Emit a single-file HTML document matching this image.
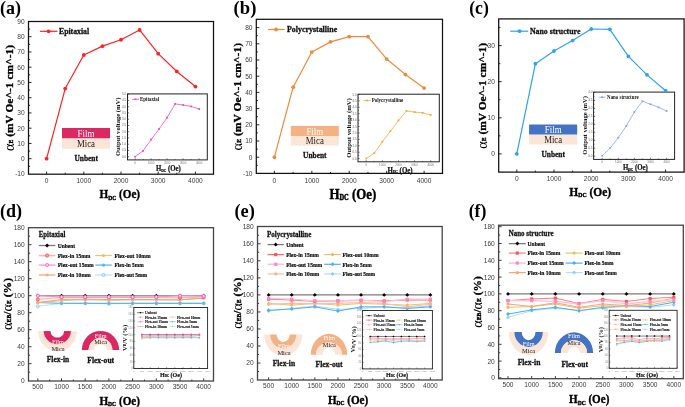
<!DOCTYPE html>
<html><head><meta charset="utf-8"><style>
html,body{margin:0;padding:0;background:#fff;}
body{width:685px;height:407px;overflow:hidden;}
svg{display:block;filter:blur(0.3px);}
</style></head><body>
<svg width="685" height="407" viewBox="0 0 685 407">
<rect width="685" height="407" fill="#fff"/>
<text x="0" y="13.6" font-family="'Liberation Serif', serif" font-size="19" font-weight="bold" fill="#000" text-anchor="start" textLength="21" lengthAdjust="spacingAndGlyphs">(a)</text>
<line x1="28.5" y1="166.32" x2="30.1" y2="166.32" stroke="#111" stroke-width="0.9"/>
<line x1="28.5" y1="158.7" x2="31.5" y2="158.7" stroke="#111" stroke-width="0.9"/>
<line x1="28.5" y1="151.07" x2="30.1" y2="151.07" stroke="#111" stroke-width="0.9"/>
<line x1="28.5" y1="143.45" x2="31.5" y2="143.45" stroke="#111" stroke-width="0.9"/>
<line x1="28.5" y1="135.82" x2="30.1" y2="135.82" stroke="#111" stroke-width="0.9"/>
<line x1="28.5" y1="128.2" x2="31.5" y2="128.2" stroke="#111" stroke-width="0.9"/>
<line x1="28.5" y1="120.57" x2="30.1" y2="120.57" stroke="#111" stroke-width="0.9"/>
<line x1="28.5" y1="112.95" x2="31.5" y2="112.95" stroke="#111" stroke-width="0.9"/>
<line x1="28.5" y1="105.32" x2="30.1" y2="105.32" stroke="#111" stroke-width="0.9"/>
<line x1="28.5" y1="97.7" x2="31.5" y2="97.7" stroke="#111" stroke-width="0.9"/>
<line x1="28.5" y1="90.07" x2="30.1" y2="90.07" stroke="#111" stroke-width="0.9"/>
<line x1="28.5" y1="82.45" x2="31.5" y2="82.45" stroke="#111" stroke-width="0.9"/>
<line x1="28.5" y1="74.82" x2="30.1" y2="74.82" stroke="#111" stroke-width="0.9"/>
<line x1="28.5" y1="67.2" x2="31.5" y2="67.2" stroke="#111" stroke-width="0.9"/>
<line x1="28.5" y1="59.57" x2="30.1" y2="59.57" stroke="#111" stroke-width="0.9"/>
<line x1="28.5" y1="51.95" x2="31.5" y2="51.95" stroke="#111" stroke-width="0.9"/>
<line x1="28.5" y1="44.32" x2="30.1" y2="44.32" stroke="#111" stroke-width="0.9"/>
<line x1="28.5" y1="36.7" x2="31.5" y2="36.7" stroke="#111" stroke-width="0.9"/>
<line x1="28.5" y1="29.07" x2="30.1" y2="29.07" stroke="#111" stroke-width="0.9"/>
<line x1="46.6" y1="174.2" x2="46.6" y2="171.6" stroke="#111" stroke-width="0.9"/>
<line x1="65.2" y1="174.2" x2="65.2" y2="172.7" stroke="#111" stroke-width="0.9"/>
<line x1="83.8" y1="174.2" x2="83.8" y2="171.6" stroke="#111" stroke-width="0.9"/>
<line x1="102.4" y1="174.2" x2="102.4" y2="172.7" stroke="#111" stroke-width="0.9"/>
<line x1="121" y1="174.2" x2="121" y2="171.6" stroke="#111" stroke-width="0.9"/>
<line x1="139.6" y1="174.2" x2="139.6" y2="172.7" stroke="#111" stroke-width="0.9"/>
<line x1="158.2" y1="174.2" x2="158.2" y2="171.6" stroke="#111" stroke-width="0.9"/>
<line x1="176.8" y1="174.2" x2="176.8" y2="172.7" stroke="#111" stroke-width="0.9"/>
<line x1="195.4" y1="174.2" x2="195.4" y2="171.6" stroke="#111" stroke-width="0.9"/>
<text x="24.7" y="176.35" font-family="'Liberation Sans', sans-serif" font-size="6.6" font-weight="normal" fill="#3a3a3a" text-anchor="end">-10</text>
<text x="24.7" y="161.1" font-family="'Liberation Sans', sans-serif" font-size="6.6" font-weight="normal" fill="#3a3a3a" text-anchor="end">0</text>
<text x="24.7" y="145.85" font-family="'Liberation Sans', sans-serif" font-size="6.6" font-weight="normal" fill="#3a3a3a" text-anchor="end">10</text>
<text x="24.7" y="130.6" font-family="'Liberation Sans', sans-serif" font-size="6.6" font-weight="normal" fill="#3a3a3a" text-anchor="end">20</text>
<text x="24.7" y="115.35" font-family="'Liberation Sans', sans-serif" font-size="6.6" font-weight="normal" fill="#3a3a3a" text-anchor="end">30</text>
<text x="24.7" y="100.1" font-family="'Liberation Sans', sans-serif" font-size="6.6" font-weight="normal" fill="#3a3a3a" text-anchor="end">40</text>
<text x="24.7" y="84.85" font-family="'Liberation Sans', sans-serif" font-size="6.6" font-weight="normal" fill="#3a3a3a" text-anchor="end">50</text>
<text x="24.7" y="69.6" font-family="'Liberation Sans', sans-serif" font-size="6.6" font-weight="normal" fill="#3a3a3a" text-anchor="end">60</text>
<text x="24.7" y="54.35" font-family="'Liberation Sans', sans-serif" font-size="6.6" font-weight="normal" fill="#3a3a3a" text-anchor="end">70</text>
<text x="24.7" y="39.1" font-family="'Liberation Sans', sans-serif" font-size="6.6" font-weight="normal" fill="#3a3a3a" text-anchor="end">80</text>
<text x="24.7" y="23.85" font-family="'Liberation Sans', sans-serif" font-size="6.6" font-weight="normal" fill="#3a3a3a" text-anchor="end">90</text>
<text x="46.6" y="183.3" font-family="'Liberation Sans', sans-serif" font-size="6.6" font-weight="normal" fill="#3a3a3a" text-anchor="middle">0</text>
<text x="83.8" y="183.3" font-family="'Liberation Sans', sans-serif" font-size="6.6" font-weight="normal" fill="#3a3a3a" text-anchor="middle">1000</text>
<text x="121" y="183.3" font-family="'Liberation Sans', sans-serif" font-size="6.6" font-weight="normal" fill="#3a3a3a" text-anchor="middle">2000</text>
<text x="158.2" y="183.3" font-family="'Liberation Sans', sans-serif" font-size="6.6" font-weight="normal" fill="#3a3a3a" text-anchor="middle">3000</text>
<text x="195.4" y="183.3" font-family="'Liberation Sans', sans-serif" font-size="6.6" font-weight="normal" fill="#3a3a3a" text-anchor="middle">4000</text>
<line x1="40" y1="31.3" x2="57.4" y2="31.3" stroke="#FF2222" stroke-width="1.2"/>
<circle cx="48.6" cy="31.3" r="1.9" fill="#FF2222"/>
<text x="59" y="33.9" font-family="'Liberation Serif', serif" font-size="7.6" font-weight="bold" fill="#111" text-anchor="start" textLength="30.1" lengthAdjust="spacingAndGlyphs" stroke="#111" stroke-width="0.27">Epitaxial</text>
<rect x="62" y="128" width="48" height="10.5" fill="#DC2862"/>
<rect x="62" y="138.5" width="48" height="10.3" fill="#FBE5D6"/>
<text x="86" y="136.9" font-family="'Liberation Serif', serif" font-size="9.6" font-weight="normal" fill="#fff" text-anchor="middle" textLength="16.8" lengthAdjust="spacingAndGlyphs">Film</text>
<text x="86" y="147.1" font-family="'Liberation Serif', serif" font-size="9.8" font-weight="normal" fill="#1a1a1a" text-anchor="middle" textLength="18" lengthAdjust="spacingAndGlyphs">Mica</text>
<text x="86.2" y="160.6" font-family="'Liberation Serif', serif" font-size="7.8" font-weight="bold" fill="#111" text-anchor="middle" textLength="23.4" lengthAdjust="spacingAndGlyphs" stroke="#111" stroke-width="0.27">Unbent</text>
<rect x="127.5" y="93.9" width="79.8" height="66" fill="#fff"/>
<line x1="127.5" y1="156.7" x2="129.1" y2="156.7" stroke="#333" stroke-width="0.7"/>
<line x1="127.5" y1="153.58" x2="128.4" y2="153.58" stroke="#333" stroke-width="0.6"/>
<text x="126.2" y="157.7" font-family="'Liberation Sans', sans-serif" font-size="3" font-weight="normal" fill="#666" text-anchor="end">0.0</text>
<line x1="127.5" y1="150.45" x2="129.1" y2="150.45" stroke="#333" stroke-width="0.7"/>
<line x1="127.5" y1="147.33" x2="128.4" y2="147.33" stroke="#333" stroke-width="0.6"/>
<text x="126.2" y="151.45" font-family="'Liberation Sans', sans-serif" font-size="3" font-weight="normal" fill="#666" text-anchor="end">0.5</text>
<line x1="127.5" y1="144.2" x2="129.1" y2="144.2" stroke="#333" stroke-width="0.7"/>
<line x1="127.5" y1="141.08" x2="128.4" y2="141.08" stroke="#333" stroke-width="0.6"/>
<text x="126.2" y="145.2" font-family="'Liberation Sans', sans-serif" font-size="3" font-weight="normal" fill="#666" text-anchor="end">1.0</text>
<line x1="127.5" y1="137.95" x2="129.1" y2="137.95" stroke="#333" stroke-width="0.7"/>
<line x1="127.5" y1="134.83" x2="128.4" y2="134.83" stroke="#333" stroke-width="0.6"/>
<text x="126.2" y="138.95" font-family="'Liberation Sans', sans-serif" font-size="3" font-weight="normal" fill="#666" text-anchor="end">1.5</text>
<line x1="127.5" y1="131.7" x2="129.1" y2="131.7" stroke="#333" stroke-width="0.7"/>
<line x1="127.5" y1="128.58" x2="128.4" y2="128.58" stroke="#333" stroke-width="0.6"/>
<text x="126.2" y="132.7" font-family="'Liberation Sans', sans-serif" font-size="3" font-weight="normal" fill="#666" text-anchor="end">2.0</text>
<line x1="127.5" y1="125.45" x2="129.1" y2="125.45" stroke="#333" stroke-width="0.7"/>
<line x1="127.5" y1="122.33" x2="128.4" y2="122.33" stroke="#333" stroke-width="0.6"/>
<text x="126.2" y="126.45" font-family="'Liberation Sans', sans-serif" font-size="3" font-weight="normal" fill="#666" text-anchor="end">2.5</text>
<line x1="127.5" y1="119.2" x2="129.1" y2="119.2" stroke="#333" stroke-width="0.7"/>
<line x1="127.5" y1="116.08" x2="128.4" y2="116.08" stroke="#333" stroke-width="0.6"/>
<text x="126.2" y="120.2" font-family="'Liberation Sans', sans-serif" font-size="3" font-weight="normal" fill="#666" text-anchor="end">3.0</text>
<line x1="127.5" y1="112.95" x2="129.1" y2="112.95" stroke="#333" stroke-width="0.7"/>
<line x1="127.5" y1="109.83" x2="128.4" y2="109.83" stroke="#333" stroke-width="0.6"/>
<text x="126.2" y="113.95" font-family="'Liberation Sans', sans-serif" font-size="3" font-weight="normal" fill="#666" text-anchor="end">3.5</text>
<line x1="127.5" y1="106.7" x2="129.1" y2="106.7" stroke="#333" stroke-width="0.7"/>
<line x1="127.5" y1="103.58" x2="128.4" y2="103.58" stroke="#333" stroke-width="0.6"/>
<text x="126.2" y="107.7" font-family="'Liberation Sans', sans-serif" font-size="3" font-weight="normal" fill="#666" text-anchor="end">4.0</text>
<line x1="127.5" y1="100.45" x2="129.1" y2="100.45" stroke="#333" stroke-width="0.7"/>
<line x1="127.5" y1="97.33" x2="128.4" y2="97.33" stroke="#333" stroke-width="0.6"/>
<text x="126.2" y="101.45" font-family="'Liberation Sans', sans-serif" font-size="3" font-weight="normal" fill="#666" text-anchor="end">4.5</text>
<line x1="127.5" y1="94.2" x2="129.1" y2="94.2" stroke="#333" stroke-width="0.7"/>
<text x="126.2" y="95.2" font-family="'Liberation Sans', sans-serif" font-size="3" font-weight="normal" fill="#666" text-anchor="end">5.0</text>
<line x1="135.1" y1="159.9" x2="135.1" y2="158.3" stroke="#333" stroke-width="0.6"/>
<text x="135.1" y="163.7" font-family="'Liberation Sans', sans-serif" font-size="2.9" font-weight="normal" fill="#777" text-anchor="middle">0</text>
<line x1="143.1" y1="159.9" x2="143.1" y2="159" stroke="#333" stroke-width="0.6"/>
<line x1="151.1" y1="159.9" x2="151.1" y2="158.3" stroke="#333" stroke-width="0.6"/>
<text x="151.1" y="163.7" font-family="'Liberation Sans', sans-serif" font-size="2.9" font-weight="normal" fill="#777" text-anchor="middle">1000</text>
<line x1="159.1" y1="159.9" x2="159.1" y2="159" stroke="#333" stroke-width="0.6"/>
<line x1="167.1" y1="159.9" x2="167.1" y2="158.3" stroke="#333" stroke-width="0.6"/>
<text x="167.1" y="163.7" font-family="'Liberation Sans', sans-serif" font-size="2.9" font-weight="normal" fill="#777" text-anchor="middle">2000</text>
<line x1="175.1" y1="159.9" x2="175.1" y2="159" stroke="#333" stroke-width="0.6"/>
<line x1="183.1" y1="159.9" x2="183.1" y2="158.3" stroke="#333" stroke-width="0.6"/>
<text x="183.1" y="163.7" font-family="'Liberation Sans', sans-serif" font-size="2.9" font-weight="normal" fill="#777" text-anchor="middle">3000</text>
<line x1="191.1" y1="159.9" x2="191.1" y2="159" stroke="#333" stroke-width="0.6"/>
<line x1="199.1" y1="159.9" x2="199.1" y2="158.3" stroke="#333" stroke-width="0.6"/>
<text x="199.1" y="163.7" font-family="'Liberation Sans', sans-serif" font-size="2.9" font-weight="normal" fill="#777" text-anchor="middle">4000</text>
<polyline points="135.1,156.7 143.1,150.9 151.1,139.6 159.1,128.9 167.1,117.6 175.1,103.9 183.1,105 191.1,106.4 199.1,109" fill="none" stroke="#F04BC8" stroke-width="0.8" stroke-linejoin="round"/>
<rect x="134.2" y="155.8" width="1.8" height="1.8" fill="#F04BC8"/>
<rect x="142.2" y="150" width="1.8" height="1.8" fill="#F04BC8"/>
<rect x="150.2" y="138.7" width="1.8" height="1.8" fill="#F04BC8"/>
<rect x="158.2" y="128" width="1.8" height="1.8" fill="#F04BC8"/>
<rect x="166.2" y="116.7" width="1.8" height="1.8" fill="#F04BC8"/>
<rect x="174.2" y="103" width="1.8" height="1.8" fill="#F04BC8"/>
<rect x="182.2" y="104.1" width="1.8" height="1.8" fill="#F04BC8"/>
<rect x="190.2" y="105.5" width="1.8" height="1.8" fill="#F04BC8"/>
<rect x="198.2" y="108.1" width="1.8" height="1.8" fill="#F04BC8"/>
<rect x="127.5" y="93.9" width="79.8" height="66" fill="none" stroke="#222" stroke-width="1"/>
<line x1="132" y1="99.3" x2="139.1" y2="99.3" stroke="#F04BC8" stroke-width="0.8"/>
<rect x="134.6" y="98.4" width="1.8" height="1.8" fill="#F04BC8"/>
<text x="140" y="101.1" font-family="'Liberation Serif', serif" font-size="5.6" font-weight="700" fill="#111" text-anchor="start" textLength="19.2" lengthAdjust="spacingAndGlyphs">Epitaxial</text>
<text x="0" y="0" font-family="'Liberation Serif', serif" font-size="6.6" font-weight="bold" fill="#111" text-anchor="middle" textLength="58.4" lengthAdjust="spacingAndGlyphs" transform="translate(117.4 126.8) rotate(-90)" dominant-baseline="central">Output voltage (mV)</text>
<text x="168.4" y="171" font-family="'Liberation Serif', serif" font-size="7.4" font-weight="bold" fill="#111" stroke="#111" stroke-width="0.22" text-anchor="middle" textLength="24.8" lengthAdjust="spacingAndGlyphs">H<tspan font-size="3.7" dy="0.74">DC</tspan><tspan dy="-0.74"> (Oe)</tspan></text>
<polyline points="46.6,158.7 65.2,88.55 83.8,55 102.4,46.16 121,39.75 139.6,29.99 158.2,53.63 176.8,71.47 195.4,86.57" fill="none" stroke="#FF2222" stroke-width="1.2" stroke-linejoin="round"/>
<circle cx="46.6" cy="158.7" r="1.9" fill="#FF2222"/>
<circle cx="65.2" cy="88.55" r="1.9" fill="#FF2222"/>
<circle cx="83.8" cy="55" r="1.9" fill="#FF2222"/>
<circle cx="102.4" cy="46.16" r="1.9" fill="#FF2222"/>
<circle cx="121" cy="39.75" r="1.9" fill="#FF2222"/>
<circle cx="139.6" cy="29.99" r="1.9" fill="#FF2222"/>
<circle cx="158.2" cy="53.63" r="1.9" fill="#FF2222"/>
<circle cx="176.8" cy="71.47" r="1.9" fill="#FF2222"/>
<circle cx="195.4" cy="86.57" r="1.9" fill="#FF2222"/>
<rect x="28.5" y="21.5" width="185" height="152.7" fill="none" stroke="#111" stroke-width="1.25"/>
<text x="0" y="0" font-family="'Liberation Serif', serif" font-size="11.1" font-weight="bold" fill="#000" stroke="#000" stroke-width="0.33" text-anchor="middle" textLength="106" lengthAdjust="spacingAndGlyphs" transform="translate(9 98) rotate(-90)" dominant-baseline="central"><tspan font-weight="normal" stroke-width="0" font-size="13.88">α</tspan><tspan font-size="5.55" dy="2.22">E</tspan><tspan dy="-2.22"> (mV Oe^-1 cm^-1)</tspan></text>
<text x="119.8" y="198.3" font-family="'Liberation Serif', serif" font-size="13.3" font-weight="bold" fill="#000" stroke="#000" stroke-width="0.4" text-anchor="middle" textLength="40.6" lengthAdjust="spacingAndGlyphs">H<tspan font-size="6.65" dy="1.33">DC</tspan><tspan dy="-1.33"> (Oe)</tspan></text>
<text x="233.6" y="13.6" font-family="'Liberation Serif', serif" font-size="19" font-weight="bold" fill="#000" text-anchor="start" textLength="22.8" lengthAdjust="spacingAndGlyphs">(b)</text>
<line x1="256.3" y1="165.3" x2="257.9" y2="165.3" stroke="#111" stroke-width="0.9"/>
<line x1="256.3" y1="157.2" x2="259.3" y2="157.2" stroke="#111" stroke-width="0.9"/>
<line x1="256.3" y1="149.1" x2="257.9" y2="149.1" stroke="#111" stroke-width="0.9"/>
<line x1="256.3" y1="141" x2="259.3" y2="141" stroke="#111" stroke-width="0.9"/>
<line x1="256.3" y1="132.9" x2="257.9" y2="132.9" stroke="#111" stroke-width="0.9"/>
<line x1="256.3" y1="124.8" x2="259.3" y2="124.8" stroke="#111" stroke-width="0.9"/>
<line x1="256.3" y1="116.7" x2="257.9" y2="116.7" stroke="#111" stroke-width="0.9"/>
<line x1="256.3" y1="108.6" x2="259.3" y2="108.6" stroke="#111" stroke-width="0.9"/>
<line x1="256.3" y1="100.5" x2="257.9" y2="100.5" stroke="#111" stroke-width="0.9"/>
<line x1="256.3" y1="92.4" x2="259.3" y2="92.4" stroke="#111" stroke-width="0.9"/>
<line x1="256.3" y1="84.3" x2="257.9" y2="84.3" stroke="#111" stroke-width="0.9"/>
<line x1="256.3" y1="76.2" x2="259.3" y2="76.2" stroke="#111" stroke-width="0.9"/>
<line x1="256.3" y1="68.1" x2="257.9" y2="68.1" stroke="#111" stroke-width="0.9"/>
<line x1="256.3" y1="60" x2="259.3" y2="60" stroke="#111" stroke-width="0.9"/>
<line x1="256.3" y1="51.9" x2="257.9" y2="51.9" stroke="#111" stroke-width="0.9"/>
<line x1="256.3" y1="43.8" x2="259.3" y2="43.8" stroke="#111" stroke-width="0.9"/>
<line x1="256.3" y1="35.7" x2="257.9" y2="35.7" stroke="#111" stroke-width="0.9"/>
<line x1="256.3" y1="27.6" x2="259.3" y2="27.6" stroke="#111" stroke-width="0.9"/>
<line x1="274.4" y1="173.4" x2="274.4" y2="170.8" stroke="#111" stroke-width="0.9"/>
<line x1="293.11" y1="173.4" x2="293.11" y2="171.9" stroke="#111" stroke-width="0.9"/>
<line x1="311.83" y1="173.4" x2="311.83" y2="170.8" stroke="#111" stroke-width="0.9"/>
<line x1="330.54" y1="173.4" x2="330.54" y2="171.9" stroke="#111" stroke-width="0.9"/>
<line x1="349.26" y1="173.4" x2="349.26" y2="170.8" stroke="#111" stroke-width="0.9"/>
<line x1="367.97" y1="173.4" x2="367.97" y2="171.9" stroke="#111" stroke-width="0.9"/>
<line x1="386.69" y1="173.4" x2="386.69" y2="170.8" stroke="#111" stroke-width="0.9"/>
<line x1="405.4" y1="173.4" x2="405.4" y2="171.9" stroke="#111" stroke-width="0.9"/>
<line x1="424.12" y1="173.4" x2="424.12" y2="170.8" stroke="#111" stroke-width="0.9"/>
<text x="252.5" y="175.8" font-family="'Liberation Sans', sans-serif" font-size="6.6" font-weight="normal" fill="#3a3a3a" text-anchor="end">-10</text>
<text x="252.5" y="159.6" font-family="'Liberation Sans', sans-serif" font-size="6.6" font-weight="normal" fill="#3a3a3a" text-anchor="end">0</text>
<text x="252.5" y="143.4" font-family="'Liberation Sans', sans-serif" font-size="6.6" font-weight="normal" fill="#3a3a3a" text-anchor="end">10</text>
<text x="252.5" y="127.2" font-family="'Liberation Sans', sans-serif" font-size="6.6" font-weight="normal" fill="#3a3a3a" text-anchor="end">20</text>
<text x="252.5" y="111" font-family="'Liberation Sans', sans-serif" font-size="6.6" font-weight="normal" fill="#3a3a3a" text-anchor="end">30</text>
<text x="252.5" y="94.8" font-family="'Liberation Sans', sans-serif" font-size="6.6" font-weight="normal" fill="#3a3a3a" text-anchor="end">40</text>
<text x="252.5" y="78.6" font-family="'Liberation Sans', sans-serif" font-size="6.6" font-weight="normal" fill="#3a3a3a" text-anchor="end">50</text>
<text x="252.5" y="62.4" font-family="'Liberation Sans', sans-serif" font-size="6.6" font-weight="normal" fill="#3a3a3a" text-anchor="end">60</text>
<text x="252.5" y="46.2" font-family="'Liberation Sans', sans-serif" font-size="6.6" font-weight="normal" fill="#3a3a3a" text-anchor="end">70</text>
<text x="252.5" y="30" font-family="'Liberation Sans', sans-serif" font-size="6.6" font-weight="normal" fill="#3a3a3a" text-anchor="end">80</text>
<text x="274.4" y="182.5" font-family="'Liberation Sans', sans-serif" font-size="6.6" font-weight="normal" fill="#3a3a3a" text-anchor="middle">0</text>
<text x="311.83" y="182.5" font-family="'Liberation Sans', sans-serif" font-size="6.6" font-weight="normal" fill="#3a3a3a" text-anchor="middle">1000</text>
<text x="349.26" y="182.5" font-family="'Liberation Sans', sans-serif" font-size="6.6" font-weight="normal" fill="#3a3a3a" text-anchor="middle">2000</text>
<text x="386.69" y="182.5" font-family="'Liberation Sans', sans-serif" font-size="6.6" font-weight="normal" fill="#3a3a3a" text-anchor="middle">3000</text>
<text x="424.12" y="182.5" font-family="'Liberation Sans', sans-serif" font-size="6.6" font-weight="normal" fill="#3a3a3a" text-anchor="middle">4000</text>
<line x1="268" y1="29.5" x2="284.7" y2="29.5" stroke="#F08A3A" stroke-width="1.2"/>
<circle cx="276.1" cy="29.5" r="1.9" fill="#F08A3A"/>
<text x="286.9" y="32.1" font-family="'Liberation Serif', serif" font-size="7.6" font-weight="bold" fill="#111" text-anchor="start" textLength="50.3" lengthAdjust="spacingAndGlyphs" stroke="#111" stroke-width="0.27">Polycrystalline</text>
<rect x="290.8" y="125.9" width="48" height="10.2" fill="#F4B183"/>
<rect x="290.8" y="136.1" width="48" height="9.5" fill="#FBE5D6"/>
<text x="314.8" y="134.5" font-family="'Liberation Serif', serif" font-size="9.6" font-weight="normal" fill="#fff" text-anchor="middle" textLength="16.8" lengthAdjust="spacingAndGlyphs">Film</text>
<text x="314.8" y="143.9" font-family="'Liberation Serif', serif" font-size="9.8" font-weight="normal" fill="#1a1a1a" text-anchor="middle" textLength="18" lengthAdjust="spacingAndGlyphs">Mica</text>
<text x="314.8" y="157.7" font-family="'Liberation Serif', serif" font-size="7.8" font-weight="bold" fill="#111" text-anchor="middle" textLength="23.4" lengthAdjust="spacingAndGlyphs" stroke="#111" stroke-width="0.27">Unbent</text>
<rect x="358" y="94.2" width="81.3" height="67.6" fill="#fff"/>
<line x1="358" y1="158.6" x2="359.6" y2="158.6" stroke="#333" stroke-width="0.7"/>
<line x1="358" y1="155.4" x2="358.9" y2="155.4" stroke="#333" stroke-width="0.6"/>
<text x="356.7" y="159.6" font-family="'Liberation Sans', sans-serif" font-size="3" font-weight="normal" fill="#666" text-anchor="end">0.0</text>
<line x1="358" y1="152.19" x2="359.6" y2="152.19" stroke="#333" stroke-width="0.7"/>
<line x1="358" y1="148.99" x2="358.9" y2="148.99" stroke="#333" stroke-width="0.6"/>
<text x="356.7" y="153.19" font-family="'Liberation Sans', sans-serif" font-size="3" font-weight="normal" fill="#666" text-anchor="end">0.5</text>
<line x1="358" y1="145.78" x2="359.6" y2="145.78" stroke="#333" stroke-width="0.7"/>
<line x1="358" y1="142.58" x2="358.9" y2="142.58" stroke="#333" stroke-width="0.6"/>
<text x="356.7" y="146.78" font-family="'Liberation Sans', sans-serif" font-size="3" font-weight="normal" fill="#666" text-anchor="end">1.0</text>
<line x1="358" y1="139.37" x2="359.6" y2="139.37" stroke="#333" stroke-width="0.7"/>
<line x1="358" y1="136.16" x2="358.9" y2="136.16" stroke="#333" stroke-width="0.6"/>
<text x="356.7" y="140.37" font-family="'Liberation Sans', sans-serif" font-size="3" font-weight="normal" fill="#666" text-anchor="end">1.5</text>
<line x1="358" y1="132.96" x2="359.6" y2="132.96" stroke="#333" stroke-width="0.7"/>
<line x1="358" y1="129.75" x2="358.9" y2="129.75" stroke="#333" stroke-width="0.6"/>
<text x="356.7" y="133.96" font-family="'Liberation Sans', sans-serif" font-size="3" font-weight="normal" fill="#666" text-anchor="end">2.0</text>
<line x1="358" y1="126.55" x2="359.6" y2="126.55" stroke="#333" stroke-width="0.7"/>
<line x1="358" y1="123.35" x2="358.9" y2="123.35" stroke="#333" stroke-width="0.6"/>
<text x="356.7" y="127.55" font-family="'Liberation Sans', sans-serif" font-size="3" font-weight="normal" fill="#666" text-anchor="end">2.5</text>
<line x1="358" y1="120.14" x2="359.6" y2="120.14" stroke="#333" stroke-width="0.7"/>
<line x1="358" y1="116.94" x2="358.9" y2="116.94" stroke="#333" stroke-width="0.6"/>
<text x="356.7" y="121.14" font-family="'Liberation Sans', sans-serif" font-size="3" font-weight="normal" fill="#666" text-anchor="end">3.0</text>
<line x1="358" y1="113.73" x2="359.6" y2="113.73" stroke="#333" stroke-width="0.7"/>
<line x1="358" y1="110.53" x2="358.9" y2="110.53" stroke="#333" stroke-width="0.6"/>
<text x="356.7" y="114.73" font-family="'Liberation Sans', sans-serif" font-size="3" font-weight="normal" fill="#666" text-anchor="end">3.5</text>
<line x1="358" y1="107.32" x2="359.6" y2="107.32" stroke="#333" stroke-width="0.7"/>
<line x1="358" y1="104.12" x2="358.9" y2="104.12" stroke="#333" stroke-width="0.6"/>
<text x="356.7" y="108.32" font-family="'Liberation Sans', sans-serif" font-size="3" font-weight="normal" fill="#666" text-anchor="end">4.0</text>
<line x1="358" y1="100.91" x2="359.6" y2="100.91" stroke="#333" stroke-width="0.7"/>
<line x1="358" y1="97.7" x2="358.9" y2="97.7" stroke="#333" stroke-width="0.6"/>
<text x="356.7" y="101.91" font-family="'Liberation Sans', sans-serif" font-size="3" font-weight="normal" fill="#666" text-anchor="end">4.5</text>
<line x1="358" y1="94.5" x2="359.6" y2="94.5" stroke="#333" stroke-width="0.7"/>
<text x="356.7" y="95.5" font-family="'Liberation Sans', sans-serif" font-size="3" font-weight="normal" fill="#666" text-anchor="end">5.0</text>
<line x1="366.2" y1="161.8" x2="366.2" y2="160.2" stroke="#333" stroke-width="0.6"/>
<text x="366.2" y="165.6" font-family="'Liberation Sans', sans-serif" font-size="2.9" font-weight="normal" fill="#777" text-anchor="middle">0</text>
<line x1="374.26" y1="161.8" x2="374.26" y2="160.9" stroke="#333" stroke-width="0.6"/>
<line x1="382.33" y1="161.8" x2="382.33" y2="160.2" stroke="#333" stroke-width="0.6"/>
<text x="382.33" y="165.6" font-family="'Liberation Sans', sans-serif" font-size="2.9" font-weight="normal" fill="#777" text-anchor="middle">1000</text>
<line x1="390.39" y1="161.8" x2="390.39" y2="160.9" stroke="#333" stroke-width="0.6"/>
<line x1="398.46" y1="161.8" x2="398.46" y2="160.2" stroke="#333" stroke-width="0.6"/>
<text x="398.46" y="165.6" font-family="'Liberation Sans', sans-serif" font-size="2.9" font-weight="normal" fill="#777" text-anchor="middle">2000</text>
<line x1="406.52" y1="161.8" x2="406.52" y2="160.9" stroke="#333" stroke-width="0.6"/>
<line x1="414.59" y1="161.8" x2="414.59" y2="160.2" stroke="#333" stroke-width="0.6"/>
<text x="414.59" y="165.6" font-family="'Liberation Sans', sans-serif" font-size="2.9" font-weight="normal" fill="#777" text-anchor="middle">3000</text>
<line x1="422.65" y1="161.8" x2="422.65" y2="160.9" stroke="#333" stroke-width="0.6"/>
<line x1="430.72" y1="161.8" x2="430.72" y2="160.2" stroke="#333" stroke-width="0.6"/>
<text x="430.72" y="165.6" font-family="'Liberation Sans', sans-serif" font-size="2.9" font-weight="normal" fill="#777" text-anchor="middle">4000</text>
<polyline points="366.2,158.5 374.26,153.2 382.33,141.8 390.39,131.2 398.46,120.5 406.52,110.9 414.59,112.1 422.65,112.8 430.72,114.9" fill="none" stroke="#F5A834" stroke-width="0.8" stroke-linejoin="round"/>
<rect x="365.3" y="157.6" width="1.8" height="1.8" fill="#F5A834"/>
<rect x="373.37" y="152.3" width="1.8" height="1.8" fill="#F5A834"/>
<rect x="381.43" y="140.9" width="1.8" height="1.8" fill="#F5A834"/>
<rect x="389.5" y="130.3" width="1.8" height="1.8" fill="#F5A834"/>
<rect x="397.56" y="119.6" width="1.8" height="1.8" fill="#F5A834"/>
<rect x="405.62" y="110" width="1.8" height="1.8" fill="#F5A834"/>
<rect x="413.69" y="111.2" width="1.8" height="1.8" fill="#F5A834"/>
<rect x="421.75" y="111.9" width="1.8" height="1.8" fill="#F5A834"/>
<rect x="429.82" y="114" width="1.8" height="1.8" fill="#F5A834"/>
<rect x="358" y="94.2" width="81.3" height="67.6" fill="none" stroke="#222" stroke-width="1"/>
<line x1="363.5" y1="100.5" x2="370.8" y2="100.5" stroke="#F5A834" stroke-width="0.8"/>
<rect x="366.2" y="99.6" width="1.8" height="1.8" fill="#F5A834"/>
<text x="371.7" y="102.3" font-family="'Liberation Serif', serif" font-size="5.6" font-weight="700" fill="#111" text-anchor="start" textLength="31.5" lengthAdjust="spacingAndGlyphs">Polycrystalline</text>
<text x="0" y="0" font-family="'Liberation Serif', serif" font-size="6.6" font-weight="bold" fill="#111" text-anchor="middle" textLength="59.7" lengthAdjust="spacingAndGlyphs" transform="translate(348.5 128) rotate(-90)" dominant-baseline="central">Output voltage (mV)</text>
<text x="400.1" y="172.6" font-family="'Liberation Serif', serif" font-size="7.4" font-weight="bold" fill="#111" stroke="#111" stroke-width="0.22" text-anchor="middle" textLength="25.2" lengthAdjust="spacingAndGlyphs">H<tspan font-size="3.7" dy="0.74">DC</tspan><tspan dy="-0.74"> (Oe)</tspan></text>
<polyline points="274.4,157.2 293.11,87.22 311.83,52.06 330.54,41.86 349.26,36.67 367.97,36.67 386.69,59.03 405.4,74.58 424.12,88.03" fill="none" stroke="#F08A3A" stroke-width="1.2" stroke-linejoin="round"/>
<circle cx="274.4" cy="157.2" r="1.9" fill="#F08A3A"/>
<circle cx="293.11" cy="87.22" r="1.9" fill="#F08A3A"/>
<circle cx="311.83" cy="52.06" r="1.9" fill="#F08A3A"/>
<circle cx="330.54" cy="41.86" r="1.9" fill="#F08A3A"/>
<circle cx="349.26" cy="36.67" r="1.9" fill="#F08A3A"/>
<circle cx="367.97" cy="36.67" r="1.9" fill="#F08A3A"/>
<circle cx="386.69" cy="59.03" r="1.9" fill="#F08A3A"/>
<circle cx="405.4" cy="74.58" r="1.9" fill="#F08A3A"/>
<circle cx="424.12" cy="88.03" r="1.9" fill="#F08A3A"/>
<rect x="256.3" y="19.3" width="186.2" height="154.1" fill="none" stroke="#111" stroke-width="1.25"/>
<text x="0" y="0" font-family="'Liberation Serif', serif" font-size="11.1" font-weight="bold" fill="#000" stroke="#000" stroke-width="0.33" text-anchor="middle" textLength="107.5" lengthAdjust="spacingAndGlyphs" transform="translate(236.6 96.7) rotate(-90)" dominant-baseline="central"><tspan font-weight="normal" stroke-width="0" font-size="13.88">α</tspan><tspan font-size="5.55" dy="2.22">E</tspan><tspan dy="-2.22"> (mV Oe^-1 cm^-1)</tspan></text>
<text x="352.8" y="199" font-family="'Liberation Serif', serif" font-size="14.4" font-weight="bold" fill="#000" stroke="#000" stroke-width="0.43" text-anchor="middle" textLength="46.8" lengthAdjust="spacingAndGlyphs">H<tspan font-size="7.2" dy="1.44">DC</tspan><tspan dy="-1.44"> (Oe)</tspan></text>
<text x="469.2" y="13.6" font-family="'Liberation Serif', serif" font-size="19" font-weight="bold" fill="#000" text-anchor="start" textLength="19.6" lengthAdjust="spacingAndGlyphs">(c)</text>
<line x1="498.7" y1="153.9" x2="501.7" y2="153.9" stroke="#111" stroke-width="0.9"/>
<line x1="498.7" y1="135.85" x2="500.3" y2="135.85" stroke="#111" stroke-width="0.9"/>
<line x1="498.7" y1="117.8" x2="501.7" y2="117.8" stroke="#111" stroke-width="0.9"/>
<line x1="498.7" y1="99.75" x2="500.3" y2="99.75" stroke="#111" stroke-width="0.9"/>
<line x1="498.7" y1="81.7" x2="501.7" y2="81.7" stroke="#111" stroke-width="0.9"/>
<line x1="498.7" y1="63.65" x2="500.3" y2="63.65" stroke="#111" stroke-width="0.9"/>
<line x1="498.7" y1="45.6" x2="501.7" y2="45.6" stroke="#111" stroke-width="0.9"/>
<line x1="498.7" y1="27.55" x2="500.3" y2="27.55" stroke="#111" stroke-width="0.9"/>
<line x1="516.8" y1="172.1" x2="516.8" y2="169.5" stroke="#111" stroke-width="0.9"/>
<line x1="535.4" y1="172.1" x2="535.4" y2="170.6" stroke="#111" stroke-width="0.9"/>
<line x1="554" y1="172.1" x2="554" y2="169.5" stroke="#111" stroke-width="0.9"/>
<line x1="572.6" y1="172.1" x2="572.6" y2="170.6" stroke="#111" stroke-width="0.9"/>
<line x1="591.2" y1="172.1" x2="591.2" y2="169.5" stroke="#111" stroke-width="0.9"/>
<line x1="609.8" y1="172.1" x2="609.8" y2="170.6" stroke="#111" stroke-width="0.9"/>
<line x1="628.4" y1="172.1" x2="628.4" y2="169.5" stroke="#111" stroke-width="0.9"/>
<line x1="647" y1="172.1" x2="647" y2="170.6" stroke="#111" stroke-width="0.9"/>
<line x1="665.6" y1="172.1" x2="665.6" y2="169.5" stroke="#111" stroke-width="0.9"/>
<text x="494.9" y="156.3" font-family="'Liberation Sans', sans-serif" font-size="6.6" font-weight="normal" fill="#3a3a3a" text-anchor="end">0</text>
<text x="494.9" y="120.2" font-family="'Liberation Sans', sans-serif" font-size="6.6" font-weight="normal" fill="#3a3a3a" text-anchor="end">10</text>
<text x="494.9" y="84.1" font-family="'Liberation Sans', sans-serif" font-size="6.6" font-weight="normal" fill="#3a3a3a" text-anchor="end">20</text>
<text x="494.9" y="48" font-family="'Liberation Sans', sans-serif" font-size="6.6" font-weight="normal" fill="#3a3a3a" text-anchor="end">30</text>
<text x="516.8" y="181.2" font-family="'Liberation Sans', sans-serif" font-size="6.6" font-weight="normal" fill="#3a3a3a" text-anchor="middle">0</text>
<text x="554" y="181.2" font-family="'Liberation Sans', sans-serif" font-size="6.6" font-weight="normal" fill="#3a3a3a" text-anchor="middle">1000</text>
<text x="591.2" y="181.2" font-family="'Liberation Sans', sans-serif" font-size="6.6" font-weight="normal" fill="#3a3a3a" text-anchor="middle">2000</text>
<text x="628.4" y="181.2" font-family="'Liberation Sans', sans-serif" font-size="6.6" font-weight="normal" fill="#3a3a3a" text-anchor="middle">3000</text>
<text x="665.6" y="181.2" font-family="'Liberation Sans', sans-serif" font-size="6.6" font-weight="normal" fill="#3a3a3a" text-anchor="middle">4000</text>
<line x1="510.2" y1="31.2" x2="528.2" y2="31.2" stroke="#2FA2F2" stroke-width="1.2"/>
<circle cx="519.6" cy="31.2" r="1.9" fill="#2FA2F2"/>
<text x="529.9" y="33.8" font-family="'Liberation Serif', serif" font-size="7.6" font-weight="bold" fill="#111" text-anchor="start" textLength="50.5" lengthAdjust="spacingAndGlyphs" stroke="#111" stroke-width="0.27">Nano structure</text>
<rect x="529.1" y="124.5" width="48.1" height="10.2" fill="#4472C4"/>
<rect x="529.1" y="134.7" width="48.1" height="9.8" fill="#FBE5D6"/>
<text x="553.15" y="133.1" font-family="'Liberation Serif', serif" font-size="9.6" font-weight="normal" fill="#fff" text-anchor="middle" textLength="16.8" lengthAdjust="spacingAndGlyphs">Film</text>
<text x="553.15" y="142.8" font-family="'Liberation Serif', serif" font-size="9.8" font-weight="normal" fill="#1a1a1a" text-anchor="middle" textLength="18" lengthAdjust="spacingAndGlyphs">Mica</text>
<text x="553.2" y="156.6" font-family="'Liberation Serif', serif" font-size="7.8" font-weight="bold" fill="#111" text-anchor="middle" textLength="23.4" lengthAdjust="spacingAndGlyphs" stroke="#111" stroke-width="0.27">Unbent</text>
<rect x="593.6" y="92.1" width="81" height="67.3" fill="#fff"/>
<line x1="593.6" y1="156.2" x2="595.2" y2="156.2" stroke="#333" stroke-width="0.7"/>
<line x1="593.6" y1="152.21" x2="594.5" y2="152.21" stroke="#333" stroke-width="0.6"/>
<text x="592.3" y="157.2" font-family="'Liberation Sans', sans-serif" font-size="3" font-weight="normal" fill="#666" text-anchor="end">0.0</text>
<line x1="593.6" y1="148.23" x2="595.2" y2="148.23" stroke="#333" stroke-width="0.7"/>
<line x1="593.6" y1="144.24" x2="594.5" y2="144.24" stroke="#333" stroke-width="0.6"/>
<text x="592.3" y="149.23" font-family="'Liberation Sans', sans-serif" font-size="3" font-weight="normal" fill="#666" text-anchor="end">0.5</text>
<line x1="593.6" y1="140.25" x2="595.2" y2="140.25" stroke="#333" stroke-width="0.7"/>
<line x1="593.6" y1="136.26" x2="594.5" y2="136.26" stroke="#333" stroke-width="0.6"/>
<text x="592.3" y="141.25" font-family="'Liberation Sans', sans-serif" font-size="3" font-weight="normal" fill="#666" text-anchor="end">1.0</text>
<line x1="593.6" y1="132.28" x2="595.2" y2="132.28" stroke="#333" stroke-width="0.7"/>
<line x1="593.6" y1="128.29" x2="594.5" y2="128.29" stroke="#333" stroke-width="0.6"/>
<text x="592.3" y="133.28" font-family="'Liberation Sans', sans-serif" font-size="3" font-weight="normal" fill="#666" text-anchor="end">1.5</text>
<line x1="593.6" y1="124.3" x2="595.2" y2="124.3" stroke="#333" stroke-width="0.7"/>
<line x1="593.6" y1="120.31" x2="594.5" y2="120.31" stroke="#333" stroke-width="0.6"/>
<text x="592.3" y="125.3" font-family="'Liberation Sans', sans-serif" font-size="3" font-weight="normal" fill="#666" text-anchor="end">2.0</text>
<line x1="593.6" y1="116.33" x2="595.2" y2="116.33" stroke="#333" stroke-width="0.7"/>
<line x1="593.6" y1="112.34" x2="594.5" y2="112.34" stroke="#333" stroke-width="0.6"/>
<text x="592.3" y="117.33" font-family="'Liberation Sans', sans-serif" font-size="3" font-weight="normal" fill="#666" text-anchor="end">2.5</text>
<line x1="593.6" y1="108.35" x2="595.2" y2="108.35" stroke="#333" stroke-width="0.7"/>
<line x1="593.6" y1="104.36" x2="594.5" y2="104.36" stroke="#333" stroke-width="0.6"/>
<text x="592.3" y="109.35" font-family="'Liberation Sans', sans-serif" font-size="3" font-weight="normal" fill="#666" text-anchor="end">3.0</text>
<line x1="593.6" y1="100.38" x2="595.2" y2="100.38" stroke="#333" stroke-width="0.7"/>
<line x1="593.6" y1="96.39" x2="594.5" y2="96.39" stroke="#333" stroke-width="0.6"/>
<text x="592.3" y="101.38" font-family="'Liberation Sans', sans-serif" font-size="3" font-weight="normal" fill="#666" text-anchor="end">3.5</text>
<line x1="593.6" y1="92.4" x2="595.2" y2="92.4" stroke="#333" stroke-width="0.7"/>
<text x="592.3" y="93.4" font-family="'Liberation Sans', sans-serif" font-size="3" font-weight="normal" fill="#666" text-anchor="end">4.0</text>
<line x1="602.2" y1="159.4" x2="602.2" y2="157.8" stroke="#333" stroke-width="0.6"/>
<text x="602.2" y="163.2" font-family="'Liberation Sans', sans-serif" font-size="2.9" font-weight="normal" fill="#777" text-anchor="middle">0</text>
<line x1="610.25" y1="159.4" x2="610.25" y2="158.5" stroke="#333" stroke-width="0.6"/>
<line x1="618.3" y1="159.4" x2="618.3" y2="157.8" stroke="#333" stroke-width="0.6"/>
<text x="618.3" y="163.2" font-family="'Liberation Sans', sans-serif" font-size="2.9" font-weight="normal" fill="#777" text-anchor="middle">1000</text>
<line x1="626.35" y1="159.4" x2="626.35" y2="158.5" stroke="#333" stroke-width="0.6"/>
<line x1="634.4" y1="159.4" x2="634.4" y2="157.8" stroke="#333" stroke-width="0.6"/>
<text x="634.4" y="163.2" font-family="'Liberation Sans', sans-serif" font-size="2.9" font-weight="normal" fill="#777" text-anchor="middle">2000</text>
<line x1="642.45" y1="159.4" x2="642.45" y2="158.5" stroke="#333" stroke-width="0.6"/>
<line x1="650.5" y1="159.4" x2="650.5" y2="157.8" stroke="#333" stroke-width="0.6"/>
<text x="650.5" y="163.2" font-family="'Liberation Sans', sans-serif" font-size="2.9" font-weight="normal" fill="#777" text-anchor="middle">3000</text>
<line x1="658.55" y1="159.4" x2="658.55" y2="158.5" stroke="#333" stroke-width="0.6"/>
<line x1="666.6" y1="159.4" x2="666.6" y2="157.8" stroke="#333" stroke-width="0.6"/>
<text x="666.6" y="163.2" font-family="'Liberation Sans', sans-serif" font-size="2.9" font-weight="normal" fill="#777" text-anchor="middle">4000</text>
<polyline points="602.2,155.8 610.25,148 618.3,137.7 626.35,125.9 634.4,112 642.45,101.2 650.5,104.3 658.55,107.3 666.6,111" fill="none" stroke="#86A2FF" stroke-width="0.8" stroke-linejoin="round"/>
<rect x="601.3" y="154.9" width="1.8" height="1.8" fill="#86A2FF"/>
<rect x="609.35" y="147.1" width="1.8" height="1.8" fill="#86A2FF"/>
<rect x="617.4" y="136.8" width="1.8" height="1.8" fill="#86A2FF"/>
<rect x="625.45" y="125" width="1.8" height="1.8" fill="#86A2FF"/>
<rect x="633.5" y="111.1" width="1.8" height="1.8" fill="#86A2FF"/>
<rect x="641.55" y="100.3" width="1.8" height="1.8" fill="#86A2FF"/>
<rect x="649.6" y="103.4" width="1.8" height="1.8" fill="#86A2FF"/>
<rect x="657.65" y="106.4" width="1.8" height="1.8" fill="#86A2FF"/>
<rect x="665.7" y="110.1" width="1.8" height="1.8" fill="#86A2FF"/>
<rect x="593.6" y="92.1" width="81" height="67.3" fill="none" stroke="#222" stroke-width="1"/>
<line x1="598.8" y1="97.2" x2="605.7" y2="97.2" stroke="#86A2FF" stroke-width="0.8"/>
<rect x="601.3" y="96.3" width="1.8" height="1.8" fill="#86A2FF"/>
<text x="607.1" y="99" font-family="'Liberation Serif', serif" font-size="5.6" font-weight="700" fill="#111" text-anchor="start" textLength="31.6" lengthAdjust="spacingAndGlyphs">Nano structure</text>
<text x="0" y="0" font-family="'Liberation Serif', serif" font-size="6.6" font-weight="bold" fill="#111" text-anchor="middle" textLength="58.7" lengthAdjust="spacingAndGlyphs" transform="translate(584.5 125.4) rotate(-90)" dominant-baseline="central">Output voltage (mV)</text>
<text x="635.4" y="170.2" font-family="'Liberation Serif', serif" font-size="7.4" font-weight="bold" fill="#111" stroke="#111" stroke-width="0.22" text-anchor="middle" textLength="24.8" lengthAdjust="spacingAndGlyphs">H<tspan font-size="3.7" dy="0.74">DC</tspan><tspan dy="-0.74"> (Oe)</tspan></text>
<polyline points="516.8,153.9 535.4,63.65 554,51.02 572.6,40.55 591.2,28.99 609.8,29.36 628.4,56.43 647,74.84 665.6,90.73" fill="none" stroke="#2FA2F2" stroke-width="1.2" stroke-linejoin="round"/>
<circle cx="516.8" cy="153.9" r="1.9" fill="#2FA2F2"/>
<circle cx="535.4" cy="63.65" r="1.9" fill="#2FA2F2"/>
<circle cx="554" cy="51.02" r="1.9" fill="#2FA2F2"/>
<circle cx="572.6" cy="40.55" r="1.9" fill="#2FA2F2"/>
<circle cx="591.2" cy="28.99" r="1.9" fill="#2FA2F2"/>
<circle cx="609.8" cy="29.36" r="1.9" fill="#2FA2F2"/>
<circle cx="628.4" cy="56.43" r="1.9" fill="#2FA2F2"/>
<circle cx="647" cy="74.84" r="1.9" fill="#2FA2F2"/>
<circle cx="665.6" cy="90.73" r="1.9" fill="#2FA2F2"/>
<rect x="498.7" y="18.9" width="185.4" height="153.2" fill="none" stroke="#111" stroke-width="1.25"/>
<text x="0" y="0" font-family="'Liberation Serif', serif" font-size="11.1" font-weight="bold" fill="#000" stroke="#000" stroke-width="0.33" text-anchor="middle" textLength="105.7" lengthAdjust="spacingAndGlyphs" transform="translate(481.6 95.8) rotate(-90)" dominant-baseline="central"><tspan font-weight="normal" stroke-width="0" font-size="13.88">α</tspan><tspan font-size="5.55" dy="2.22">E</tspan><tspan dy="-2.22"> (mV Oe^-1 cm^-1)</tspan></text>
<text x="590.2" y="196" font-family="'Liberation Serif', serif" font-size="13.3" font-weight="bold" fill="#000" stroke="#000" stroke-width="0.4" text-anchor="middle" textLength="41.7" lengthAdjust="spacingAndGlyphs">H<tspan font-size="6.65" dy="1.33">DC</tspan><tspan dy="-1.33"> (Oe)</tspan></text>
<text x="0" y="216.6" font-family="'Liberation Serif', serif" font-size="19" font-weight="bold" fill="#000" text-anchor="start" textLength="22.1" lengthAdjust="spacingAndGlyphs">(d)</text>
<line x1="28.5" y1="372.2" x2="30.1" y2="372.2" stroke="#222" stroke-width="0.9"/>
<line x1="28.5" y1="363.7" x2="31.5" y2="363.7" stroke="#222" stroke-width="0.9"/>
<line x1="28.5" y1="355.2" x2="30.1" y2="355.2" stroke="#222" stroke-width="0.9"/>
<line x1="28.5" y1="346.7" x2="31.5" y2="346.7" stroke="#222" stroke-width="0.9"/>
<line x1="28.5" y1="338.2" x2="30.1" y2="338.2" stroke="#222" stroke-width="0.9"/>
<line x1="28.5" y1="329.7" x2="31.5" y2="329.7" stroke="#222" stroke-width="0.9"/>
<line x1="28.5" y1="321.2" x2="30.1" y2="321.2" stroke="#222" stroke-width="0.9"/>
<line x1="28.5" y1="312.7" x2="31.5" y2="312.7" stroke="#222" stroke-width="0.9"/>
<line x1="28.5" y1="304.2" x2="30.1" y2="304.2" stroke="#222" stroke-width="0.9"/>
<line x1="28.5" y1="295.7" x2="31.5" y2="295.7" stroke="#222" stroke-width="0.9"/>
<line x1="28.5" y1="287.2" x2="30.1" y2="287.2" stroke="#222" stroke-width="0.9"/>
<line x1="28.5" y1="278.7" x2="31.5" y2="278.7" stroke="#222" stroke-width="0.9"/>
<line x1="28.5" y1="270.2" x2="30.1" y2="270.2" stroke="#222" stroke-width="0.9"/>
<line x1="28.5" y1="261.7" x2="31.5" y2="261.7" stroke="#222" stroke-width="0.9"/>
<line x1="28.5" y1="253.2" x2="30.1" y2="253.2" stroke="#222" stroke-width="0.9"/>
<line x1="28.5" y1="244.7" x2="31.5" y2="244.7" stroke="#222" stroke-width="0.9"/>
<line x1="28.5" y1="236.2" x2="30.1" y2="236.2" stroke="#222" stroke-width="0.9"/>
<line x1="37.8" y1="381" x2="37.8" y2="378.4" stroke="#222" stroke-width="0.9"/>
<line x1="49.65" y1="381" x2="49.65" y2="379.5" stroke="#222" stroke-width="0.9"/>
<line x1="61.5" y1="381" x2="61.5" y2="378.4" stroke="#222" stroke-width="0.9"/>
<line x1="73.35" y1="381" x2="73.35" y2="379.5" stroke="#222" stroke-width="0.9"/>
<line x1="85.2" y1="381" x2="85.2" y2="378.4" stroke="#222" stroke-width="0.9"/>
<line x1="97.05" y1="381" x2="97.05" y2="379.5" stroke="#222" stroke-width="0.9"/>
<line x1="108.9" y1="381" x2="108.9" y2="378.4" stroke="#222" stroke-width="0.9"/>
<line x1="120.75" y1="381" x2="120.75" y2="379.5" stroke="#222" stroke-width="0.9"/>
<line x1="132.6" y1="381" x2="132.6" y2="378.4" stroke="#222" stroke-width="0.9"/>
<line x1="144.45" y1="381" x2="144.45" y2="379.5" stroke="#222" stroke-width="0.9"/>
<line x1="156.3" y1="381" x2="156.3" y2="378.4" stroke="#222" stroke-width="0.9"/>
<line x1="168.15" y1="381" x2="168.15" y2="379.5" stroke="#222" stroke-width="0.9"/>
<line x1="180" y1="381" x2="180" y2="378.4" stroke="#222" stroke-width="0.9"/>
<line x1="191.85" y1="381" x2="191.85" y2="379.5" stroke="#222" stroke-width="0.9"/>
<line x1="203.7" y1="381" x2="203.7" y2="378.4" stroke="#222" stroke-width="0.9"/>
<text x="24.7" y="383.1" font-family="'Liberation Sans', sans-serif" font-size="6.6" font-weight="normal" fill="#3a3a3a" text-anchor="end">0</text>
<text x="24.7" y="366.1" font-family="'Liberation Sans', sans-serif" font-size="6.6" font-weight="normal" fill="#3a3a3a" text-anchor="end">20</text>
<text x="24.7" y="349.1" font-family="'Liberation Sans', sans-serif" font-size="6.6" font-weight="normal" fill="#3a3a3a" text-anchor="end">40</text>
<text x="24.7" y="332.1" font-family="'Liberation Sans', sans-serif" font-size="6.6" font-weight="normal" fill="#3a3a3a" text-anchor="end">60</text>
<text x="24.7" y="315.1" font-family="'Liberation Sans', sans-serif" font-size="6.6" font-weight="normal" fill="#3a3a3a" text-anchor="end">80</text>
<text x="24.7" y="298.1" font-family="'Liberation Sans', sans-serif" font-size="6.6" font-weight="normal" fill="#3a3a3a" text-anchor="end">100</text>
<text x="24.7" y="281.1" font-family="'Liberation Sans', sans-serif" font-size="6.6" font-weight="normal" fill="#3a3a3a" text-anchor="end">120</text>
<text x="24.7" y="264.1" font-family="'Liberation Sans', sans-serif" font-size="6.6" font-weight="normal" fill="#3a3a3a" text-anchor="end">140</text>
<text x="24.7" y="247.1" font-family="'Liberation Sans', sans-serif" font-size="6.6" font-weight="normal" fill="#3a3a3a" text-anchor="end">160</text>
<text x="24.7" y="230.1" font-family="'Liberation Sans', sans-serif" font-size="6.6" font-weight="normal" fill="#3a3a3a" text-anchor="end">180</text>
<text x="37.8" y="389.1" font-family="'Liberation Sans', sans-serif" font-size="6.6" font-weight="normal" fill="#3a3a3a" text-anchor="middle">500</text>
<text x="61.5" y="389.1" font-family="'Liberation Sans', sans-serif" font-size="6.6" font-weight="normal" fill="#3a3a3a" text-anchor="middle">1000</text>
<text x="85.2" y="389.1" font-family="'Liberation Sans', sans-serif" font-size="6.6" font-weight="normal" fill="#3a3a3a" text-anchor="middle">1500</text>
<text x="108.9" y="389.1" font-family="'Liberation Sans', sans-serif" font-size="6.6" font-weight="normal" fill="#3a3a3a" text-anchor="middle">2000</text>
<text x="132.6" y="389.1" font-family="'Liberation Sans', sans-serif" font-size="6.6" font-weight="normal" fill="#3a3a3a" text-anchor="middle">2500</text>
<text x="156.3" y="389.1" font-family="'Liberation Sans', sans-serif" font-size="6.6" font-weight="normal" fill="#3a3a3a" text-anchor="middle">3000</text>
<text x="180" y="389.1" font-family="'Liberation Sans', sans-serif" font-size="6.6" font-weight="normal" fill="#3a3a3a" text-anchor="middle">3500</text>
<text x="203.7" y="389.1" font-family="'Liberation Sans', sans-serif" font-size="6.6" font-weight="normal" fill="#3a3a3a" text-anchor="middle">4000</text>
<polyline points="37.8,295.7 61.5,295.7 85.2,295.7 108.9,295.7 132.6,295.7 156.3,295.7 180,295.7 203.7,295.7" fill="none" stroke="#7a7a7a" stroke-width="1.1" stroke-linejoin="round"/>
<polyline points="37.8,306.32 61.5,303.35 85.2,303.35 108.9,303.77 132.6,303.35 156.3,303.35 180,303.35 203.7,303.35" fill="none" stroke="#BDE2FF" stroke-width="1.1" stroke-linejoin="round"/>
<polyline points="37.8,302.5 61.5,303.35 85.2,303.35 108.9,303.35 132.6,303.35 156.3,303.35 180,303.35 203.7,303.35" fill="none" stroke="#5AB6F8" stroke-width="1.1" stroke-linejoin="round"/>
<polyline points="37.8,302.5 61.5,300.8 85.2,299.1 108.9,300.38 132.6,299.95 156.3,299.95 180,299.95 203.7,297.4" fill="none" stroke="#EEC46C" stroke-width="1" stroke-linejoin="round"/>
<polyline points="37.8,302.5 61.5,299.52 85.2,299.95 108.9,299.52 132.6,299.52 156.3,299.52 180,299.95 203.7,298.25" fill="none" stroke="#F4A468" stroke-width="1" stroke-linejoin="round"/>
<polyline points="37.8,299.44 61.5,297.4 85.2,297.57 108.9,297.4 132.6,297.4 156.3,297.4 180,297.82 203.7,296.98" fill="none" stroke="#FFB4B4" stroke-width="1.3" stroke-linejoin="round"/>
<polyline points="37.8,295.7 61.5,296.98 85.2,296.98 108.9,296.98 132.6,296.98 156.3,296.98 180,295.7 203.7,296.12" fill="none" stroke="#FF86D6" stroke-width="1" stroke-linejoin="round"/>
<path d="M37.8 293.76L39.74 295.7L37.8 297.64L35.86 295.7Z" fill="#000"/>
<path d="M61.5 293.76L63.44 295.7L61.5 297.64L59.56 295.7Z" fill="#000"/>
<path d="M85.2 293.76L87.14 295.7L85.2 297.64L83.26 295.7Z" fill="#000"/>
<path d="M108.9 293.76L110.84 295.7L108.9 297.64L106.96 295.7Z" fill="#000"/>
<path d="M132.6 293.76L134.54 295.7L132.6 297.64L130.66 295.7Z" fill="#000"/>
<path d="M156.3 293.76L158.24 295.7L156.3 297.64L154.36 295.7Z" fill="#000"/>
<path d="M180 293.76L181.94 295.7L180 297.64L178.06 295.7Z" fill="#000"/>
<path d="M203.7 293.76L205.64 295.7L203.7 297.64L201.76 295.7Z" fill="#000"/>
<circle cx="37.8" cy="306.32" r="1.55" fill="#D2ECFF" stroke="#8FCDF8" stroke-width="0.9"/>
<circle cx="61.5" cy="303.35" r="1.55" fill="#D2ECFF" stroke="#8FCDF8" stroke-width="0.9"/>
<circle cx="85.2" cy="303.35" r="1.55" fill="#D2ECFF" stroke="#8FCDF8" stroke-width="0.9"/>
<circle cx="108.9" cy="303.77" r="1.55" fill="#D2ECFF" stroke="#8FCDF8" stroke-width="0.9"/>
<circle cx="132.6" cy="303.35" r="1.55" fill="#D2ECFF" stroke="#8FCDF8" stroke-width="0.9"/>
<circle cx="156.3" cy="303.35" r="1.55" fill="#D2ECFF" stroke="#8FCDF8" stroke-width="0.9"/>
<circle cx="180" cy="303.35" r="1.55" fill="#D2ECFF" stroke="#8FCDF8" stroke-width="0.9"/>
<circle cx="203.7" cy="303.35" r="1.55" fill="#D2ECFF" stroke="#8FCDF8" stroke-width="0.9"/>
<circle cx="37.8" cy="302.5" r="1.55" fill="#5AB6F8"/>
<circle cx="61.5" cy="303.35" r="1.55" fill="#5AB6F8"/>
<circle cx="85.2" cy="303.35" r="1.55" fill="#5AB6F8"/>
<circle cx="108.9" cy="303.35" r="1.55" fill="#5AB6F8"/>
<circle cx="132.6" cy="303.35" r="1.55" fill="#5AB6F8"/>
<circle cx="156.3" cy="303.35" r="1.55" fill="#5AB6F8"/>
<circle cx="180" cy="303.35" r="1.55" fill="#5AB6F8"/>
<circle cx="203.7" cy="303.35" r="1.55" fill="#5AB6F8"/>
<circle cx="37.8" cy="302.5" r="1.55" fill="#E8C070"/>
<circle cx="61.5" cy="300.8" r="1.55" fill="#E8C070"/>
<circle cx="85.2" cy="299.1" r="1.55" fill="#E8C070"/>
<circle cx="108.9" cy="300.38" r="1.55" fill="#E8C070"/>
<circle cx="132.6" cy="299.95" r="1.55" fill="#E8C070"/>
<circle cx="156.3" cy="299.95" r="1.55" fill="#E8C070"/>
<circle cx="180" cy="299.95" r="1.55" fill="#E8C070"/>
<circle cx="203.7" cy="297.4" r="1.55" fill="#E8C070"/>
<circle cx="37.8" cy="302.5" r="1.55" fill="#F5AE7C"/>
<circle cx="61.5" cy="299.52" r="1.55" fill="#F5AE7C"/>
<circle cx="85.2" cy="299.95" r="1.55" fill="#F5AE7C"/>
<circle cx="108.9" cy="299.52" r="1.55" fill="#F5AE7C"/>
<circle cx="132.6" cy="299.52" r="1.55" fill="#F5AE7C"/>
<circle cx="156.3" cy="299.52" r="1.55" fill="#F5AE7C"/>
<circle cx="180" cy="299.95" r="1.55" fill="#F5AE7C"/>
<circle cx="203.7" cy="298.25" r="1.55" fill="#F5AE7C"/>
<circle cx="37.8" cy="299.44" r="1.55" fill="#FF9C9C" stroke="#FF4E4E" stroke-width="0.9"/>
<circle cx="61.5" cy="297.4" r="1.55" fill="#FF9C9C" stroke="#FF4E4E" stroke-width="0.9"/>
<circle cx="85.2" cy="297.57" r="1.55" fill="#FF9C9C" stroke="#FF4E4E" stroke-width="0.9"/>
<circle cx="108.9" cy="297.4" r="1.55" fill="#FF9C9C" stroke="#FF4E4E" stroke-width="0.9"/>
<circle cx="132.6" cy="297.4" r="1.55" fill="#FF9C9C" stroke="#FF4E4E" stroke-width="0.9"/>
<circle cx="156.3" cy="297.4" r="1.55" fill="#FF9C9C" stroke="#FF4E4E" stroke-width="0.9"/>
<circle cx="180" cy="297.82" r="1.55" fill="#FF9C9C" stroke="#FF4E4E" stroke-width="0.9"/>
<circle cx="203.7" cy="296.98" r="1.55" fill="#FF9C9C" stroke="#FF4E4E" stroke-width="0.9"/>
<circle cx="37.8" cy="295.7" r="1.55" fill="#FFD2F0" stroke="#F26ACB" stroke-width="0.9"/>
<circle cx="61.5" cy="296.98" r="1.55" fill="#FFD2F0" stroke="#F26ACB" stroke-width="0.9"/>
<circle cx="85.2" cy="296.98" r="1.55" fill="#FFD2F0" stroke="#F26ACB" stroke-width="0.9"/>
<circle cx="108.9" cy="296.98" r="1.55" fill="#FFD2F0" stroke="#F26ACB" stroke-width="0.9"/>
<circle cx="132.6" cy="296.98" r="1.55" fill="#FFD2F0" stroke="#F26ACB" stroke-width="0.9"/>
<circle cx="156.3" cy="296.98" r="1.55" fill="#FFD2F0" stroke="#F26ACB" stroke-width="0.9"/>
<circle cx="180" cy="295.7" r="1.55" fill="#FFD2F0" stroke="#F26ACB" stroke-width="0.9"/>
<circle cx="203.7" cy="296.12" r="1.55" fill="#FFD2F0" stroke="#F26ACB" stroke-width="0.9"/>
<text x="38.7" y="237.2" font-family="'Liberation Serif', serif" font-size="7.3" font-weight="bold" fill="#111" text-anchor="start" textLength="26.6" lengthAdjust="spacingAndGlyphs" stroke="#111" stroke-width="0.26">Epitaxial</text>
<line x1="38.8" y1="245.5" x2="55.4" y2="245.5" stroke="#7a7a7a" stroke-width="1.3"/>
<path d="M47.1 243.5L49.1 245.5L47.1 247.5L45.1 245.5Z" fill="#000"/>
<text x="57.7" y="247.7" font-family="'Liberation Serif', serif" font-size="6.6" font-weight="bold" fill="#111" text-anchor="start" textLength="17.5" lengthAdjust="spacingAndGlyphs" stroke="#111" stroke-width="0.23">Unbent</text>
<line x1="38.8" y1="255.5" x2="55.4" y2="255.5" stroke="#FFB4B4" stroke-width="1.5"/>
<circle cx="47.1" cy="255.5" r="1.6" fill="#FF9C9C" stroke="#FF4E4E" stroke-width="0.9"/>
<text x="57.7" y="257.7" font-family="'Liberation Serif', serif" font-size="6.6" font-weight="bold" fill="#111" text-anchor="start" textLength="32.7" lengthAdjust="spacingAndGlyphs" stroke="#111" stroke-width="0.23">Flex-in 15mm</text>
<line x1="38.8" y1="265.1" x2="55.4" y2="265.1" stroke="#FF86D6" stroke-width="1.2"/>
<circle cx="47.1" cy="265.1" r="1.6" fill="#FFD2F0" stroke="#F26ACB" stroke-width="0.9"/>
<text x="57.7" y="267.3" font-family="'Liberation Serif', serif" font-size="6.6" font-weight="bold" fill="#111" text-anchor="start" textLength="36" lengthAdjust="spacingAndGlyphs" stroke="#111" stroke-width="0.23">Flex-out 15mm</text>
<line x1="38.8" y1="275" x2="55.4" y2="275" stroke="#F4A468" stroke-width="1.2"/>
<circle cx="47.1" cy="275" r="1.6" fill="#F5AE7C"/>
<text x="57.7" y="277.2" font-family="'Liberation Serif', serif" font-size="6.6" font-weight="bold" fill="#111" text-anchor="start" textLength="33" lengthAdjust="spacingAndGlyphs" stroke="#111" stroke-width="0.23">Flex-in 10mm</text>
<line x1="95.2" y1="255.5" x2="111.8" y2="255.5" stroke="#EEC46C" stroke-width="1.2"/>
<circle cx="103.5" cy="255.5" r="1.6" fill="#E8C070"/>
<text x="114.6" y="257.7" font-family="'Liberation Serif', serif" font-size="6.6" font-weight="bold" fill="#111" text-anchor="start" textLength="36" lengthAdjust="spacingAndGlyphs" stroke="#111" stroke-width="0.23">Flex-out 10mm</text>
<line x1="95.2" y1="265.1" x2="111.8" y2="265.1" stroke="#5AB6F8" stroke-width="1.3"/>
<circle cx="103.5" cy="265.1" r="1.6" fill="#5AB6F8"/>
<text x="114.6" y="267.3" font-family="'Liberation Serif', serif" font-size="6.6" font-weight="bold" fill="#111" text-anchor="start" textLength="29" lengthAdjust="spacingAndGlyphs" stroke="#111" stroke-width="0.23">Flex-in 5mm</text>
<line x1="95.2" y1="275" x2="111.8" y2="275" stroke="#BDE2FF" stroke-width="1.3"/>
<circle cx="103.5" cy="275" r="1.6" fill="#D2ECFF" stroke="#8FCDF8" stroke-width="0.9"/>
<text x="114.6" y="277.2" font-family="'Liberation Serif', serif" font-size="6.6" font-weight="bold" fill="#111" text-anchor="start" textLength="32.5" lengthAdjust="spacingAndGlyphs" stroke="#111" stroke-width="0.23">Flex-out 5mm</text>
<path d="M38 331 A19.3 20.4 0 0 0 76.6 331 L70.9 331 A13.6 13.2 0 0 1 43.7 331 Z" fill="#FBE5D6"/>
<path d="M43.7 331 A13.6 13.2 0 0 0 70.9 331 L64.1 331 A6.8 6.6 0 0 1 50.5 331 Z" fill="#DC2862"/>
<path d="M81.8 350 A18.7 19.1 0 0 1 119.2 350 L112.3 350 A11.8 11.9 0 0 0 88.7 350 Z" fill="#DC2862"/>
<path d="M88.7 350 A11.8 11.9 0 0 1 112.3 350 L107.1 350 A6.6 5.5 0 0 0 93.9 350 Z" fill="#FBE5D6"/>
<text x="58" y="343.7" font-family="'Liberation Serif', serif" font-size="7" font-weight="normal" fill="#fff" text-anchor="middle" textLength="11.8" lengthAdjust="spacingAndGlyphs">Film</text>
<text x="58" y="351" font-family="'Liberation Serif', serif" font-size="7" font-weight="normal" fill="#1a1a1a" text-anchor="middle" textLength="13.2" lengthAdjust="spacingAndGlyphs">Mica</text>
<text x="100.7" y="337.5" font-family="'Liberation Serif', serif" font-size="7" font-weight="normal" fill="#fff" text-anchor="middle" textLength="11.8" lengthAdjust="spacingAndGlyphs">Film</text>
<text x="100.7" y="344.1" font-family="'Liberation Serif', serif" font-size="7" font-weight="normal" fill="#1a1a1a" text-anchor="middle" textLength="12.9" lengthAdjust="spacingAndGlyphs">Mica</text>
<text x="58" y="361.7" font-family="'Liberation Serif', serif" font-size="8.4" font-weight="bold" fill="#111" text-anchor="middle" textLength="22.4" lengthAdjust="spacingAndGlyphs" stroke="#111" stroke-width="0.29">Flex-in</text>
<text x="100.7" y="362.6" font-family="'Liberation Serif', serif" font-size="8.4" font-weight="bold" fill="#111" text-anchor="middle" textLength="26.8" lengthAdjust="spacingAndGlyphs" stroke="#111" stroke-width="0.29">Flex-out</text>
<rect x="133.8" y="307.5" width="73.8" height="61" fill="#fff"/>
<line x1="133.8" y1="368.5" x2="135.2" y2="368.5" stroke="#444" stroke-width="0.5"/>
<text x="132.6" y="369.4" font-family="'Liberation Sans', sans-serif" font-size="2.6" font-weight="normal" fill="#888" text-anchor="end">0</text>
<line x1="133.8" y1="361.72" x2="135.2" y2="361.72" stroke="#444" stroke-width="0.5"/>
<text x="132.6" y="362.62" font-family="'Liberation Sans', sans-serif" font-size="2.6" font-weight="normal" fill="#888" text-anchor="end">20</text>
<line x1="133.8" y1="354.94" x2="135.2" y2="354.94" stroke="#444" stroke-width="0.5"/>
<text x="132.6" y="355.84" font-family="'Liberation Sans', sans-serif" font-size="2.6" font-weight="normal" fill="#888" text-anchor="end">40</text>
<line x1="133.8" y1="348.17" x2="135.2" y2="348.17" stroke="#444" stroke-width="0.5"/>
<text x="132.6" y="349.07" font-family="'Liberation Sans', sans-serif" font-size="2.6" font-weight="normal" fill="#888" text-anchor="end">60</text>
<line x1="133.8" y1="341.39" x2="135.2" y2="341.39" stroke="#444" stroke-width="0.5"/>
<text x="132.6" y="342.29" font-family="'Liberation Sans', sans-serif" font-size="2.6" font-weight="normal" fill="#888" text-anchor="end">80</text>
<line x1="133.8" y1="334.61" x2="135.2" y2="334.61" stroke="#444" stroke-width="0.5"/>
<text x="132.6" y="335.51" font-family="'Liberation Sans', sans-serif" font-size="2.6" font-weight="normal" fill="#888" text-anchor="end">100</text>
<line x1="133.8" y1="327.83" x2="135.2" y2="327.83" stroke="#444" stroke-width="0.5"/>
<text x="132.6" y="328.73" font-family="'Liberation Sans', sans-serif" font-size="2.6" font-weight="normal" fill="#888" text-anchor="end">120</text>
<line x1="133.8" y1="321.06" x2="135.2" y2="321.06" stroke="#444" stroke-width="0.5"/>
<text x="132.6" y="321.96" font-family="'Liberation Sans', sans-serif" font-size="2.6" font-weight="normal" fill="#888" text-anchor="end">140</text>
<line x1="133.8" y1="314.28" x2="135.2" y2="314.28" stroke="#444" stroke-width="0.5"/>
<text x="132.6" y="315.18" font-family="'Liberation Sans', sans-serif" font-size="2.6" font-weight="normal" fill="#888" text-anchor="end">160</text>
<line x1="133.8" y1="307.5" x2="135.2" y2="307.5" stroke="#444" stroke-width="0.5"/>
<text x="132.6" y="308.4" font-family="'Liberation Sans', sans-serif" font-size="2.6" font-weight="normal" fill="#888" text-anchor="end">180</text>
<line x1="133.8" y1="368.5" x2="133.8" y2="367.1" stroke="#444" stroke-width="0.5"/>
<text x="133.8" y="371.8" font-family="'Liberation Sans', sans-serif" font-size="2.4" font-weight="normal" fill="#888" text-anchor="middle">0</text>
<line x1="142" y1="368.5" x2="142" y2="367.1" stroke="#444" stroke-width="0.5"/>
<text x="142" y="371.8" font-family="'Liberation Sans', sans-serif" font-size="2.4" font-weight="normal" fill="#888" text-anchor="middle">500</text>
<line x1="150.2" y1="368.5" x2="150.2" y2="367.1" stroke="#444" stroke-width="0.5"/>
<text x="150.2" y="371.8" font-family="'Liberation Sans', sans-serif" font-size="2.4" font-weight="normal" fill="#888" text-anchor="middle">1000</text>
<line x1="158.4" y1="368.5" x2="158.4" y2="367.1" stroke="#444" stroke-width="0.5"/>
<text x="158.4" y="371.8" font-family="'Liberation Sans', sans-serif" font-size="2.4" font-weight="normal" fill="#888" text-anchor="middle">1500</text>
<line x1="166.6" y1="368.5" x2="166.6" y2="367.1" stroke="#444" stroke-width="0.5"/>
<text x="166.6" y="371.8" font-family="'Liberation Sans', sans-serif" font-size="2.4" font-weight="normal" fill="#888" text-anchor="middle">2000</text>
<line x1="174.8" y1="368.5" x2="174.8" y2="367.1" stroke="#444" stroke-width="0.5"/>
<text x="174.8" y="371.8" font-family="'Liberation Sans', sans-serif" font-size="2.4" font-weight="normal" fill="#888" text-anchor="middle">2500</text>
<line x1="183" y1="368.5" x2="183" y2="367.1" stroke="#444" stroke-width="0.5"/>
<text x="183" y="371.8" font-family="'Liberation Sans', sans-serif" font-size="2.4" font-weight="normal" fill="#888" text-anchor="middle">3000</text>
<line x1="191.2" y1="368.5" x2="191.2" y2="367.1" stroke="#444" stroke-width="0.5"/>
<text x="191.2" y="371.8" font-family="'Liberation Sans', sans-serif" font-size="2.4" font-weight="normal" fill="#888" text-anchor="middle">3500</text>
<line x1="199.4" y1="368.5" x2="199.4" y2="367.1" stroke="#444" stroke-width="0.5"/>
<text x="199.4" y="371.8" font-family="'Liberation Sans', sans-serif" font-size="2.4" font-weight="normal" fill="#888" text-anchor="middle">4000</text>
<line x1="207.6" y1="368.5" x2="207.6" y2="367.1" stroke="#444" stroke-width="0.5"/>
<text x="207.6" y="371.8" font-family="'Liberation Sans', sans-serif" font-size="2.4" font-weight="normal" fill="#888" text-anchor="middle">4500</text>
<polyline points="142,334.61 150.2,334.61 158.4,334.61 166.6,334.61 174.8,334.61 183,334.61 191.2,334.61 199.4,334.61" fill="none" stroke="#333" stroke-width="0.6" stroke-linejoin="round"/>
<path d="M142 333.61L143 334.61L142 335.61L141 334.61Z" fill="#000"/>
<path d="M150.2 333.61L151.2 334.61L150.2 335.61L149.2 334.61Z" fill="#000"/>
<path d="M158.4 333.61L159.4 334.61L158.4 335.61L157.4 334.61Z" fill="#000"/>
<path d="M166.6 333.61L167.6 334.61L166.6 335.61L165.6 334.61Z" fill="#000"/>
<path d="M174.8 333.61L175.8 334.61L174.8 335.61L173.8 334.61Z" fill="#000"/>
<path d="M183 333.61L184 334.61L183 335.61L182 334.61Z" fill="#000"/>
<path d="M191.2 333.61L192.2 334.61L191.2 335.61L190.2 334.61Z" fill="#000"/>
<path d="M199.4 333.61L200.4 334.61L199.4 335.61L198.4 334.61Z" fill="#000"/>
<polyline points="142,338.85 150.2,337.66 158.4,337.66 166.6,337.83 174.8,337.66 183,337.66 191.2,337.66 199.4,337.66" fill="none" stroke="#BDE2FF" stroke-width="0.6" stroke-linejoin="round"/>
<circle cx="142" cy="338.85" r="0.8" fill="#8FCDF8"/>
<circle cx="150.2" cy="337.66" r="0.8" fill="#8FCDF8"/>
<circle cx="158.4" cy="337.66" r="0.8" fill="#8FCDF8"/>
<circle cx="166.6" cy="337.83" r="0.8" fill="#8FCDF8"/>
<circle cx="174.8" cy="337.66" r="0.8" fill="#8FCDF8"/>
<circle cx="183" cy="337.66" r="0.8" fill="#8FCDF8"/>
<circle cx="191.2" cy="337.66" r="0.8" fill="#8FCDF8"/>
<circle cx="199.4" cy="337.66" r="0.8" fill="#8FCDF8"/>
<polyline points="142,337.32 150.2,337.66 158.4,337.66 166.6,337.66 174.8,337.66 183,337.66 191.2,337.66 199.4,337.66" fill="none" stroke="#5AB6F8" stroke-width="0.6" stroke-linejoin="round"/>
<circle cx="142" cy="337.32" r="0.8" fill="#5AB6F8"/>
<circle cx="150.2" cy="337.66" r="0.8" fill="#5AB6F8"/>
<circle cx="158.4" cy="337.66" r="0.8" fill="#5AB6F8"/>
<circle cx="166.6" cy="337.66" r="0.8" fill="#5AB6F8"/>
<circle cx="174.8" cy="337.66" r="0.8" fill="#5AB6F8"/>
<circle cx="183" cy="337.66" r="0.8" fill="#5AB6F8"/>
<circle cx="191.2" cy="337.66" r="0.8" fill="#5AB6F8"/>
<circle cx="199.4" cy="337.66" r="0.8" fill="#5AB6F8"/>
<polyline points="142,337.32 150.2,336.64 158.4,335.97 166.6,336.48 174.8,336.31 183,336.31 191.2,336.31 199.4,335.29" fill="none" stroke="#EEC46C" stroke-width="0.6" stroke-linejoin="round"/>
<circle cx="142" cy="337.32" r="0.8" fill="#E8C070"/>
<circle cx="150.2" cy="336.64" r="0.8" fill="#E8C070"/>
<circle cx="158.4" cy="335.97" r="0.8" fill="#E8C070"/>
<circle cx="166.6" cy="336.48" r="0.8" fill="#E8C070"/>
<circle cx="174.8" cy="336.31" r="0.8" fill="#E8C070"/>
<circle cx="183" cy="336.31" r="0.8" fill="#E8C070"/>
<circle cx="191.2" cy="336.31" r="0.8" fill="#E8C070"/>
<circle cx="199.4" cy="335.29" r="0.8" fill="#E8C070"/>
<polyline points="142,337.32 150.2,336.14 158.4,336.31 166.6,336.14 174.8,336.14 183,336.14 191.2,336.31 199.4,335.63" fill="none" stroke="#F4A468" stroke-width="0.6" stroke-linejoin="round"/>
<circle cx="142" cy="337.32" r="0.8" fill="#F5AE7C"/>
<circle cx="150.2" cy="336.14" r="0.8" fill="#F5AE7C"/>
<circle cx="158.4" cy="336.31" r="0.8" fill="#F5AE7C"/>
<circle cx="166.6" cy="336.14" r="0.8" fill="#F5AE7C"/>
<circle cx="174.8" cy="336.14" r="0.8" fill="#F5AE7C"/>
<circle cx="183" cy="336.14" r="0.8" fill="#F5AE7C"/>
<circle cx="191.2" cy="336.31" r="0.8" fill="#F5AE7C"/>
<circle cx="199.4" cy="335.63" r="0.8" fill="#F5AE7C"/>
<polyline points="142,336.1 150.2,335.29 158.4,335.36 166.6,335.29 174.8,335.29 183,335.29 191.2,335.46 199.4,335.12" fill="none" stroke="#FFB4B4" stroke-width="0.6" stroke-linejoin="round"/>
<circle cx="142" cy="336.1" r="0.8" fill="#FF4E4E"/>
<circle cx="150.2" cy="335.29" r="0.8" fill="#FF4E4E"/>
<circle cx="158.4" cy="335.36" r="0.8" fill="#FF4E4E"/>
<circle cx="166.6" cy="335.29" r="0.8" fill="#FF4E4E"/>
<circle cx="174.8" cy="335.29" r="0.8" fill="#FF4E4E"/>
<circle cx="183" cy="335.29" r="0.8" fill="#FF4E4E"/>
<circle cx="191.2" cy="335.46" r="0.8" fill="#FF4E4E"/>
<circle cx="199.4" cy="335.12" r="0.8" fill="#FF4E4E"/>
<polyline points="142,334.61 150.2,335.12 158.4,335.12 166.6,335.12 174.8,335.12 183,335.12 191.2,334.61 199.4,334.78" fill="none" stroke="#FF86D6" stroke-width="0.6" stroke-linejoin="round"/>
<circle cx="142" cy="334.61" r="0.8" fill="#F26ACB"/>
<circle cx="150.2" cy="335.12" r="0.8" fill="#F26ACB"/>
<circle cx="158.4" cy="335.12" r="0.8" fill="#F26ACB"/>
<circle cx="166.6" cy="335.12" r="0.8" fill="#F26ACB"/>
<circle cx="174.8" cy="335.12" r="0.8" fill="#F26ACB"/>
<circle cx="183" cy="335.12" r="0.8" fill="#F26ACB"/>
<circle cx="191.2" cy="334.61" r="0.8" fill="#F26ACB"/>
<circle cx="199.4" cy="334.78" r="0.8" fill="#F26ACB"/>
<rect x="133.8" y="307.5" width="73.8" height="61" fill="none" stroke="#222" stroke-width="0.9"/>
<line x1="137.1" y1="312.7" x2="143.7" y2="312.7" stroke="#222" stroke-width="0.6"/>
<path d="M140.4 311.82L141.28 312.7L140.4 313.57L139.53 312.7Z" fill="#000"/>
<text x="145" y="314.2" font-family="'Liberation Serif', serif" font-size="4.5" font-weight="bold" fill="#222" text-anchor="start" textLength="11.66" lengthAdjust="spacingAndGlyphs" stroke="#222" stroke-width="0.16">Unbent</text>
<line x1="137.1" y1="317.1" x2="143.7" y2="317.1" stroke="#FFB4B4" stroke-width="0.6"/>
<circle cx="140.4" cy="317.1" r="0.7" fill="#FF4E4E"/>
<text x="145" y="318.6" font-family="'Liberation Serif', serif" font-size="4.5" font-weight="bold" fill="#222" text-anchor="start" textLength="22.14" lengthAdjust="spacingAndGlyphs" stroke="#222" stroke-width="0.16">Flex-in 15mm</text>
<line x1="137.1" y1="321.7" x2="143.7" y2="321.7" stroke="#FF86D6" stroke-width="0.6"/>
<circle cx="140.4" cy="321.7" r="0.7" fill="#F26ACB"/>
<text x="145" y="323.2" font-family="'Liberation Serif', serif" font-size="4.5" font-weight="bold" fill="#222" text-anchor="start" textLength="22.88" lengthAdjust="spacingAndGlyphs" stroke="#222" stroke-width="0.16">Flex-out 15mm</text>
<line x1="137.1" y1="326.5" x2="143.7" y2="326.5" stroke="#F4A468" stroke-width="0.6"/>
<circle cx="140.4" cy="326.5" r="0.7" fill="#F5AE7C"/>
<text x="145" y="328" font-family="'Liberation Serif', serif" font-size="4.5" font-weight="bold" fill="#222" text-anchor="start" textLength="22.14" lengthAdjust="spacingAndGlyphs" stroke="#222" stroke-width="0.16">Flex-in 10mm</text>
<line x1="169.22" y1="317.1" x2="175.82" y2="317.1" stroke="#EEC46C" stroke-width="0.6"/>
<circle cx="172.52" cy="317.1" r="0.7" fill="#E8C070"/>
<text x="177.12" y="318.6" font-family="'Liberation Serif', serif" font-size="4.5" font-weight="bold" fill="#222" text-anchor="start" textLength="23.25" lengthAdjust="spacingAndGlyphs" stroke="#222" stroke-width="0.16">Flex-out 10mm</text>
<line x1="169.22" y1="321.7" x2="175.82" y2="321.7" stroke="#5AB6F8" stroke-width="0.6"/>
<circle cx="172.52" cy="321.7" r="0.7" fill="#5AB6F8"/>
<text x="177.12" y="323.2" font-family="'Liberation Serif', serif" font-size="4.5" font-weight="bold" fill="#222" text-anchor="start" textLength="20.07" lengthAdjust="spacingAndGlyphs" stroke="#222" stroke-width="0.16">Flex-in 5mm</text>
<line x1="169.22" y1="326.5" x2="175.82" y2="326.5" stroke="#BDE2FF" stroke-width="0.6"/>
<circle cx="172.52" cy="326.5" r="0.7" fill="#8FCDF8"/>
<text x="177.12" y="328" font-family="'Liberation Serif', serif" font-size="4.5" font-weight="bold" fill="#222" text-anchor="start" textLength="21.55" lengthAdjust="spacingAndGlyphs" stroke="#222" stroke-width="0.16">Flex-out 5mm</text>
<text x="0" y="0" font-family="'Liberation Serif', serif" font-size="6.4" font-weight="bold" fill="#111" text-anchor="middle" textLength="26" lengthAdjust="spacingAndGlyphs" transform="translate(124.2 337.9) rotate(-90)" dominant-baseline="central">V<tspan font-size="3.6" dy="1">B</tspan><tspan dy="-1">/V (%)</tspan></text>
<text x="171" y="376.5" font-family="'Liberation Serif', serif" font-size="6.8" font-weight="bold" fill="#111" stroke="#111" stroke-width="0.2" text-anchor="middle" textLength="22" lengthAdjust="spacingAndGlyphs">H<tspan font-size="3.4" dy="0.68">DC</tspan><tspan dy="-0.68"> (Oe)</tspan></text>
<rect x="28.5" y="227.7" width="185" height="153.3" fill="none" stroke="#444" stroke-width="1.3"/>
<text x="0" y="0" font-family="'Liberation Serif', serif" font-size="11.2" font-weight="bold" fill="#000" stroke="#000" stroke-width="0.34" text-anchor="middle" textLength="52" lengthAdjust="spacingAndGlyphs" transform="translate(6.9 304) rotate(-90)" dominant-baseline="central"><tspan font-weight="normal" stroke-width="0" font-size="14">α</tspan><tspan font-size="5.6" dy="2.24">EB</tspan><tspan dy="-2.24">/</tspan><tspan font-weight="normal" stroke-width="0" font-size="14">α</tspan><tspan font-size="5.6" dy="2.24">E</tspan><tspan dy="-2.24"> (%)</tspan></text>
<text x="119.7" y="404.6" font-family="'Liberation Serif', serif" font-size="13.3" font-weight="bold" fill="#000" stroke="#000" stroke-width="0.4" text-anchor="middle" textLength="40.6" lengthAdjust="spacingAndGlyphs">H<tspan font-size="6.65" dy="1.33">DC</tspan><tspan dy="-1.33"> (Oe)</tspan></text>
<text x="234.5" y="216.9" font-family="'Liberation Serif', serif" font-size="19" font-weight="bold" fill="#000" text-anchor="start" textLength="20.4" lengthAdjust="spacingAndGlyphs">(e)</text>
<line x1="257.5" y1="371.58" x2="259.1" y2="371.58" stroke="#222" stroke-width="0.9"/>
<line x1="257.5" y1="363.06" x2="260.5" y2="363.06" stroke="#222" stroke-width="0.9"/>
<line x1="257.5" y1="354.54" x2="259.1" y2="354.54" stroke="#222" stroke-width="0.9"/>
<line x1="257.5" y1="346.02" x2="260.5" y2="346.02" stroke="#222" stroke-width="0.9"/>
<line x1="257.5" y1="337.5" x2="259.1" y2="337.5" stroke="#222" stroke-width="0.9"/>
<line x1="257.5" y1="328.98" x2="260.5" y2="328.98" stroke="#222" stroke-width="0.9"/>
<line x1="257.5" y1="320.46" x2="259.1" y2="320.46" stroke="#222" stroke-width="0.9"/>
<line x1="257.5" y1="311.94" x2="260.5" y2="311.94" stroke="#222" stroke-width="0.9"/>
<line x1="257.5" y1="303.42" x2="259.1" y2="303.42" stroke="#222" stroke-width="0.9"/>
<line x1="257.5" y1="294.9" x2="260.5" y2="294.9" stroke="#222" stroke-width="0.9"/>
<line x1="257.5" y1="286.38" x2="259.1" y2="286.38" stroke="#222" stroke-width="0.9"/>
<line x1="257.5" y1="277.86" x2="260.5" y2="277.86" stroke="#222" stroke-width="0.9"/>
<line x1="257.5" y1="269.34" x2="259.1" y2="269.34" stroke="#222" stroke-width="0.9"/>
<line x1="257.5" y1="260.82" x2="260.5" y2="260.82" stroke="#222" stroke-width="0.9"/>
<line x1="257.5" y1="252.3" x2="259.1" y2="252.3" stroke="#222" stroke-width="0.9"/>
<line x1="257.5" y1="243.78" x2="260.5" y2="243.78" stroke="#222" stroke-width="0.9"/>
<line x1="257.5" y1="235.26" x2="259.1" y2="235.26" stroke="#222" stroke-width="0.9"/>
<line x1="268.6" y1="380" x2="268.6" y2="377.4" stroke="#222" stroke-width="0.9"/>
<line x1="280.16" y1="380" x2="280.16" y2="378.5" stroke="#222" stroke-width="0.9"/>
<line x1="291.71" y1="380" x2="291.71" y2="377.4" stroke="#222" stroke-width="0.9"/>
<line x1="303.27" y1="380" x2="303.27" y2="378.5" stroke="#222" stroke-width="0.9"/>
<line x1="314.82" y1="380" x2="314.82" y2="377.4" stroke="#222" stroke-width="0.9"/>
<line x1="326.38" y1="380" x2="326.38" y2="378.5" stroke="#222" stroke-width="0.9"/>
<line x1="337.93" y1="380" x2="337.93" y2="377.4" stroke="#222" stroke-width="0.9"/>
<line x1="349.49" y1="380" x2="349.49" y2="378.5" stroke="#222" stroke-width="0.9"/>
<line x1="361.04" y1="380" x2="361.04" y2="377.4" stroke="#222" stroke-width="0.9"/>
<line x1="372.6" y1="380" x2="372.6" y2="378.5" stroke="#222" stroke-width="0.9"/>
<line x1="384.15" y1="380" x2="384.15" y2="377.4" stroke="#222" stroke-width="0.9"/>
<line x1="395.71" y1="380" x2="395.71" y2="378.5" stroke="#222" stroke-width="0.9"/>
<line x1="407.26" y1="380" x2="407.26" y2="377.4" stroke="#222" stroke-width="0.9"/>
<line x1="418.82" y1="380" x2="418.82" y2="378.5" stroke="#222" stroke-width="0.9"/>
<line x1="430.37" y1="380" x2="430.37" y2="377.4" stroke="#222" stroke-width="0.9"/>
<text x="253.7" y="382.5" font-family="'Liberation Sans', sans-serif" font-size="6.6" font-weight="normal" fill="#3a3a3a" text-anchor="end">0</text>
<text x="253.7" y="365.46" font-family="'Liberation Sans', sans-serif" font-size="6.6" font-weight="normal" fill="#3a3a3a" text-anchor="end">20</text>
<text x="253.7" y="348.42" font-family="'Liberation Sans', sans-serif" font-size="6.6" font-weight="normal" fill="#3a3a3a" text-anchor="end">40</text>
<text x="253.7" y="331.38" font-family="'Liberation Sans', sans-serif" font-size="6.6" font-weight="normal" fill="#3a3a3a" text-anchor="end">60</text>
<text x="253.7" y="314.34" font-family="'Liberation Sans', sans-serif" font-size="6.6" font-weight="normal" fill="#3a3a3a" text-anchor="end">80</text>
<text x="253.7" y="297.3" font-family="'Liberation Sans', sans-serif" font-size="6.6" font-weight="normal" fill="#3a3a3a" text-anchor="end">100</text>
<text x="253.7" y="280.26" font-family="'Liberation Sans', sans-serif" font-size="6.6" font-weight="normal" fill="#3a3a3a" text-anchor="end">120</text>
<text x="253.7" y="263.22" font-family="'Liberation Sans', sans-serif" font-size="6.6" font-weight="normal" fill="#3a3a3a" text-anchor="end">140</text>
<text x="253.7" y="246.18" font-family="'Liberation Sans', sans-serif" font-size="6.6" font-weight="normal" fill="#3a3a3a" text-anchor="end">160</text>
<text x="253.7" y="229.14" font-family="'Liberation Sans', sans-serif" font-size="6.6" font-weight="normal" fill="#3a3a3a" text-anchor="end">180</text>
<text x="268.6" y="388.1" font-family="'Liberation Sans', sans-serif" font-size="6.6" font-weight="normal" fill="#3a3a3a" text-anchor="middle">500</text>
<text x="291.71" y="388.1" font-family="'Liberation Sans', sans-serif" font-size="6.6" font-weight="normal" fill="#3a3a3a" text-anchor="middle">1000</text>
<text x="314.82" y="388.1" font-family="'Liberation Sans', sans-serif" font-size="6.6" font-weight="normal" fill="#3a3a3a" text-anchor="middle">1500</text>
<text x="337.93" y="388.1" font-family="'Liberation Sans', sans-serif" font-size="6.6" font-weight="normal" fill="#3a3a3a" text-anchor="middle">2000</text>
<text x="361.04" y="388.1" font-family="'Liberation Sans', sans-serif" font-size="6.6" font-weight="normal" fill="#3a3a3a" text-anchor="middle">2500</text>
<text x="384.15" y="388.1" font-family="'Liberation Sans', sans-serif" font-size="6.6" font-weight="normal" fill="#3a3a3a" text-anchor="middle">3000</text>
<text x="407.26" y="388.1" font-family="'Liberation Sans', sans-serif" font-size="6.6" font-weight="normal" fill="#3a3a3a" text-anchor="middle">3500</text>
<text x="430.37" y="388.1" font-family="'Liberation Sans', sans-serif" font-size="6.6" font-weight="normal" fill="#3a3a3a" text-anchor="middle">4000</text>
<polyline points="268.6,294.9 291.71,294.9 314.82,294.9 337.93,294.9 361.04,294.9 384.15,294.9 407.26,294.9 430.37,294.9" fill="none" stroke="#7a7a7a" stroke-width="1.1" stroke-linejoin="round"/>
<polyline points="268.6,311.09 291.71,308.53 314.82,305.98 337.93,309.38 361.04,308.53 384.15,306.83 407.26,307.68 430.37,305.98" fill="none" stroke="#ACDBFF" stroke-width="1" stroke-linejoin="round"/>
<polyline points="268.6,310.24 291.71,308.96 314.82,306.83 337.93,311.09 361.04,306.83 384.15,306.83 407.26,308.53 430.37,306.83" fill="none" stroke="#4AAFF8" stroke-width="1" stroke-linejoin="round"/>
<polyline points="268.6,303.42 291.71,305.12 314.82,303.42 337.93,305.12 361.04,303.42 384.15,304.27 407.26,305.12 430.37,303.42" fill="none" stroke="#EBC266" stroke-width="1" stroke-linejoin="round"/>
<polyline points="268.6,304.27 291.71,303.42 314.82,303.85 337.93,303.42 361.04,302.57 384.15,303.42 407.26,306.83 430.37,304.27" fill="none" stroke="#F7C29C" stroke-width="1.1" stroke-linejoin="round"/>
<polyline points="268.6,299.16 291.71,300.01 314.82,301.29 337.93,300.86 361.04,300.44 384.15,300.86 407.26,300.01 430.37,300.01" fill="none" stroke="#FF6666" stroke-width="1" stroke-linejoin="round"/>
<polyline points="268.6,298.31 291.71,299.16 314.82,300.86 337.93,300.86 361.04,300.01 384.15,301.72 407.26,299.16 430.37,299.16" fill="none" stroke="#FFBEE2" stroke-width="1.3" stroke-linejoin="round"/>
<path d="M268.6 292.96L270.54 294.9L268.6 296.84L266.66 294.9Z" fill="#000"/>
<path d="M291.71 292.96L293.65 294.9L291.71 296.84L289.77 294.9Z" fill="#000"/>
<path d="M314.82 292.96L316.76 294.9L314.82 296.84L312.88 294.9Z" fill="#000"/>
<path d="M337.93 292.96L339.87 294.9L337.93 296.84L335.99 294.9Z" fill="#000"/>
<path d="M361.04 292.96L362.98 294.9L361.04 296.84L359.1 294.9Z" fill="#000"/>
<path d="M384.15 292.96L386.09 294.9L384.15 296.84L382.21 294.9Z" fill="#000"/>
<path d="M407.26 292.96L409.2 294.9L407.26 296.84L405.32 294.9Z" fill="#000"/>
<path d="M430.37 292.96L432.31 294.9L430.37 296.84L428.43 294.9Z" fill="#000"/>
<path d="M268.6 309.15L270.54 311.09L268.6 313.03L266.66 311.09Z" fill="#92CDF8"/>
<path d="M291.71 306.59L293.65 308.53L291.71 310.47L289.77 308.53Z" fill="#92CDF8"/>
<path d="M314.82 304.04L316.76 305.98L314.82 307.91L312.88 305.98Z" fill="#92CDF8"/>
<path d="M337.93 307.45L339.87 309.38L337.93 311.32L335.99 309.38Z" fill="#92CDF8"/>
<path d="M361.04 306.59L362.98 308.53L361.04 310.47L359.1 308.53Z" fill="#92CDF8"/>
<path d="M384.15 304.89L386.09 306.83L384.15 308.77L382.21 306.83Z" fill="#92CDF8"/>
<path d="M407.26 305.74L409.2 307.68L407.26 309.62L405.32 307.68Z" fill="#92CDF8"/>
<path d="M430.37 304.04L432.31 305.98L430.37 307.91L428.43 305.98Z" fill="#92CDF8"/>
<path d="M268.6 308.3L270.54 310.24L268.6 312.17L266.66 310.24Z" fill="#4AAFF8"/>
<path d="M291.71 307.02L293.65 308.96L291.71 310.9L289.77 308.96Z" fill="#4AAFF8"/>
<path d="M314.82 304.89L316.76 306.83L314.82 308.77L312.88 306.83Z" fill="#4AAFF8"/>
<path d="M337.93 309.15L339.87 311.09L337.93 313.03L335.99 311.09Z" fill="#4AAFF8"/>
<path d="M361.04 304.89L362.98 306.83L361.04 308.77L359.1 306.83Z" fill="#4AAFF8"/>
<path d="M384.15 304.89L386.09 306.83L384.15 308.77L382.21 306.83Z" fill="#4AAFF8"/>
<path d="M407.26 306.59L409.2 308.53L407.26 310.47L405.32 308.53Z" fill="#4AAFF8"/>
<path d="M430.37 304.89L432.31 306.83L430.37 308.77L428.43 306.83Z" fill="#4AAFF8"/>
<path d="M268.6 301.48L270.54 303.42L268.6 305.36L266.66 303.42Z" fill="#E6BC5E"/>
<path d="M291.71 303.19L293.65 305.12L291.71 307.06L289.77 305.12Z" fill="#E6BC5E"/>
<path d="M314.82 301.48L316.76 303.42L314.82 305.36L312.88 303.42Z" fill="#E6BC5E"/>
<path d="M337.93 303.19L339.87 305.12L337.93 307.06L335.99 305.12Z" fill="#E6BC5E"/>
<path d="M361.04 301.48L362.98 303.42L361.04 305.36L359.1 303.42Z" fill="#E6BC5E"/>
<path d="M384.15 302.33L386.09 304.27L384.15 306.21L382.21 304.27Z" fill="#E6BC5E"/>
<path d="M407.26 303.19L409.2 305.12L407.26 307.06L405.32 305.12Z" fill="#E6BC5E"/>
<path d="M430.37 301.48L432.31 303.42L430.37 305.36L428.43 303.42Z" fill="#E6BC5E"/>
<circle cx="268.6" cy="304.27" r="1.55" fill="#F5B48A"/>
<circle cx="291.71" cy="303.42" r="1.55" fill="#F5B48A"/>
<circle cx="314.82" cy="303.85" r="1.55" fill="#F5B48A"/>
<circle cx="337.93" cy="303.42" r="1.55" fill="#F5B48A"/>
<circle cx="361.04" cy="302.57" r="1.55" fill="#F5B48A"/>
<circle cx="384.15" cy="303.42" r="1.55" fill="#F5B48A"/>
<circle cx="407.26" cy="306.83" r="1.55" fill="#F5B48A"/>
<circle cx="430.37" cy="304.27" r="1.55" fill="#F5B48A"/>
<rect x="267.05" y="297.61" width="3.1" height="3.1" fill="#FF5555"/>
<rect x="290.16" y="298.46" width="3.1" height="3.1" fill="#FF5555"/>
<rect x="313.27" y="299.74" width="3.1" height="3.1" fill="#FF5555"/>
<rect x="336.38" y="299.31" width="3.1" height="3.1" fill="#FF5555"/>
<rect x="359.49" y="298.89" width="3.1" height="3.1" fill="#FF5555"/>
<rect x="382.6" y="299.31" width="3.1" height="3.1" fill="#FF5555"/>
<rect x="405.71" y="298.46" width="3.1" height="3.1" fill="#FF5555"/>
<rect x="428.82" y="298.46" width="3.1" height="3.1" fill="#FF5555"/>
<rect x="267.05" y="296.76" width="3.1" height="3.1" fill="#FF86CC"/>
<rect x="290.16" y="297.61" width="3.1" height="3.1" fill="#FF86CC"/>
<rect x="313.27" y="299.31" width="3.1" height="3.1" fill="#FF86CC"/>
<rect x="336.38" y="299.31" width="3.1" height="3.1" fill="#FF86CC"/>
<rect x="359.49" y="298.46" width="3.1" height="3.1" fill="#FF86CC"/>
<rect x="382.6" y="300.17" width="3.1" height="3.1" fill="#FF86CC"/>
<rect x="405.71" y="297.61" width="3.1" height="3.1" fill="#FF86CC"/>
<rect x="428.82" y="297.61" width="3.1" height="3.1" fill="#FF86CC"/>
<text x="267" y="236.8" font-family="'Liberation Serif', serif" font-size="7.3" font-weight="bold" fill="#111" text-anchor="start" textLength="44.3" lengthAdjust="spacingAndGlyphs" stroke="#111" stroke-width="0.26">Polycrystalline</text>
<line x1="267.6" y1="244.6" x2="283.9" y2="244.6" stroke="#7a7a7a" stroke-width="1.3"/>
<path d="M275.75 242.6L277.75 244.6L275.75 246.6L273.75 244.6Z" fill="#000"/>
<text x="286.2" y="246.8" font-family="'Liberation Serif', serif" font-size="6.6" font-weight="bold" fill="#111" text-anchor="start" textLength="17.5" lengthAdjust="spacingAndGlyphs" stroke="#111" stroke-width="0.23">Unbent</text>
<line x1="267.6" y1="254.6" x2="283.9" y2="254.6" stroke="#FF6666" stroke-width="1.2"/>
<rect x="274.15" y="253" width="3.2" height="3.2" fill="#FF5555"/>
<text x="286.2" y="256.8" font-family="'Liberation Serif', serif" font-size="6.6" font-weight="bold" fill="#111" text-anchor="start" textLength="32.7" lengthAdjust="spacingAndGlyphs" stroke="#111" stroke-width="0.23">Flex-in 15mm</text>
<line x1="267.6" y1="264.3" x2="283.9" y2="264.3" stroke="#FFBEE2" stroke-width="1.5"/>
<rect x="274.15" y="262.7" width="3.2" height="3.2" fill="#FF86CC"/>
<text x="286.2" y="266.5" font-family="'Liberation Serif', serif" font-size="6.6" font-weight="bold" fill="#111" text-anchor="start" textLength="36" lengthAdjust="spacingAndGlyphs" stroke="#111" stroke-width="0.23">Flex-out 15mm</text>
<line x1="267.6" y1="273.9" x2="283.9" y2="273.9" stroke="#F7C29C" stroke-width="1.3"/>
<circle cx="275.75" cy="273.9" r="1.6" fill="#F5B48A"/>
<text x="286.2" y="276.1" font-family="'Liberation Serif', serif" font-size="6.6" font-weight="bold" fill="#111" text-anchor="start" textLength="33" lengthAdjust="spacingAndGlyphs" stroke="#111" stroke-width="0.23">Flex-in 10mm</text>
<line x1="324.2" y1="254.6" x2="340.8" y2="254.6" stroke="#EBC266" stroke-width="1.2"/>
<path d="M332.5 252.6L334.5 254.6L332.5 256.6L330.5 254.6Z" fill="#E6BC5E"/>
<text x="342.6" y="256.8" font-family="'Liberation Serif', serif" font-size="6.6" font-weight="bold" fill="#111" text-anchor="start" textLength="36" lengthAdjust="spacingAndGlyphs" stroke="#111" stroke-width="0.23">Flex-out 10mm</text>
<line x1="324.2" y1="264.3" x2="340.8" y2="264.3" stroke="#4AAFF8" stroke-width="1.2"/>
<path d="M332.5 262.3L334.5 264.3L332.5 266.3L330.5 264.3Z" fill="#4AAFF8"/>
<text x="342.6" y="266.5" font-family="'Liberation Serif', serif" font-size="6.6" font-weight="bold" fill="#111" text-anchor="start" textLength="29" lengthAdjust="spacingAndGlyphs" stroke="#111" stroke-width="0.23">Flex-in 5mm</text>
<line x1="324.2" y1="273.9" x2="340.8" y2="273.9" stroke="#ACDBFF" stroke-width="1.2"/>
<path d="M332.5 271.9L334.5 273.9L332.5 275.9L330.5 273.9Z" fill="#92CDF8"/>
<text x="342.6" y="276.1" font-family="'Liberation Serif', serif" font-size="6.6" font-weight="bold" fill="#111" text-anchor="start" textLength="32.5" lengthAdjust="spacingAndGlyphs" stroke="#111" stroke-width="0.23">Flex-out 5mm</text>
<path d="M264.1 334.6 A19.1 21 0 0 0 302.3 334.6 L296.3 334.6 A13.1 13.8 0 0 1 270.1 334.6 Z" fill="#FBE5D6"/>
<path d="M270.1 334.6 A13.1 13.8 0 0 0 296.3 334.6 L289.8 334.6 A6.6 7.3 0 0 1 276.6 334.6 Z" fill="#F4B183"/>
<path d="M310.8 354.7 A18.2 20.9 0 0 1 347.2 354.7 L342.1 354.7 A13.1 12.1 0 0 0 315.9 354.7 Z" fill="#F4B183"/>
<path d="M315.9 354.7 A13.1 12.1 0 0 1 342.1 354.7 L335.4 354.7 A6.4 7 0 0 0 322.6 354.7 Z" fill="#FBE5D6"/>
<text x="284" y="348.1" font-family="'Liberation Serif', serif" font-size="7" font-weight="normal" fill="#fff" text-anchor="middle" textLength="11.8" lengthAdjust="spacingAndGlyphs">Film</text>
<text x="284" y="355.1" font-family="'Liberation Serif', serif" font-size="7" font-weight="normal" fill="#1a1a1a" text-anchor="middle" textLength="13.2" lengthAdjust="spacingAndGlyphs">Mica</text>
<text x="329.3" y="340.2" font-family="'Liberation Serif', serif" font-size="7" font-weight="normal" fill="#fff" text-anchor="middle" textLength="11.8" lengthAdjust="spacingAndGlyphs">Film</text>
<text x="329.3" y="347.1" font-family="'Liberation Serif', serif" font-size="7" font-weight="normal" fill="#1a1a1a" text-anchor="middle" textLength="12.9" lengthAdjust="spacingAndGlyphs">Mica</text>
<text x="283.9" y="366.3" font-family="'Liberation Serif', serif" font-size="8.4" font-weight="bold" fill="#111" text-anchor="middle" textLength="22.2" lengthAdjust="spacingAndGlyphs" stroke="#111" stroke-width="0.29">Flex-in</text>
<text x="329" y="366.6" font-family="'Liberation Serif', serif" font-size="8.4" font-weight="bold" fill="#111" text-anchor="middle" textLength="27" lengthAdjust="spacingAndGlyphs" stroke="#111" stroke-width="0.29">Flex-out</text>
<rect x="362.4" y="310.5" width="70" height="58.4" fill="#fff"/>
<line x1="362.4" y1="368.9" x2="363.8" y2="368.9" stroke="#444" stroke-width="0.5"/>
<text x="361.2" y="369.8" font-family="'Liberation Sans', sans-serif" font-size="2.6" font-weight="normal" fill="#888" text-anchor="end">0</text>
<line x1="362.4" y1="362.41" x2="363.8" y2="362.41" stroke="#444" stroke-width="0.5"/>
<text x="361.2" y="363.31" font-family="'Liberation Sans', sans-serif" font-size="2.6" font-weight="normal" fill="#888" text-anchor="end">20</text>
<line x1="362.4" y1="355.92" x2="363.8" y2="355.92" stroke="#444" stroke-width="0.5"/>
<text x="361.2" y="356.82" font-family="'Liberation Sans', sans-serif" font-size="2.6" font-weight="normal" fill="#888" text-anchor="end">40</text>
<line x1="362.4" y1="349.43" x2="363.8" y2="349.43" stroke="#444" stroke-width="0.5"/>
<text x="361.2" y="350.33" font-family="'Liberation Sans', sans-serif" font-size="2.6" font-weight="normal" fill="#888" text-anchor="end">60</text>
<line x1="362.4" y1="342.94" x2="363.8" y2="342.94" stroke="#444" stroke-width="0.5"/>
<text x="361.2" y="343.84" font-family="'Liberation Sans', sans-serif" font-size="2.6" font-weight="normal" fill="#888" text-anchor="end">80</text>
<line x1="362.4" y1="336.46" x2="363.8" y2="336.46" stroke="#444" stroke-width="0.5"/>
<text x="361.2" y="337.36" font-family="'Liberation Sans', sans-serif" font-size="2.6" font-weight="normal" fill="#888" text-anchor="end">100</text>
<line x1="362.4" y1="329.97" x2="363.8" y2="329.97" stroke="#444" stroke-width="0.5"/>
<text x="361.2" y="330.87" font-family="'Liberation Sans', sans-serif" font-size="2.6" font-weight="normal" fill="#888" text-anchor="end">120</text>
<line x1="362.4" y1="323.48" x2="363.8" y2="323.48" stroke="#444" stroke-width="0.5"/>
<text x="361.2" y="324.38" font-family="'Liberation Sans', sans-serif" font-size="2.6" font-weight="normal" fill="#888" text-anchor="end">140</text>
<line x1="362.4" y1="316.99" x2="363.8" y2="316.99" stroke="#444" stroke-width="0.5"/>
<text x="361.2" y="317.89" font-family="'Liberation Sans', sans-serif" font-size="2.6" font-weight="normal" fill="#888" text-anchor="end">160</text>
<line x1="362.4" y1="310.5" x2="363.8" y2="310.5" stroke="#444" stroke-width="0.5"/>
<text x="361.2" y="311.4" font-family="'Liberation Sans', sans-serif" font-size="2.6" font-weight="normal" fill="#888" text-anchor="end">180</text>
<line x1="362.4" y1="368.9" x2="362.4" y2="367.5" stroke="#444" stroke-width="0.5"/>
<text x="362.4" y="372.2" font-family="'Liberation Sans', sans-serif" font-size="2.4" font-weight="normal" fill="#888" text-anchor="middle">0</text>
<line x1="370.18" y1="368.9" x2="370.18" y2="367.5" stroke="#444" stroke-width="0.5"/>
<text x="370.18" y="372.2" font-family="'Liberation Sans', sans-serif" font-size="2.4" font-weight="normal" fill="#888" text-anchor="middle">500</text>
<line x1="377.96" y1="368.9" x2="377.96" y2="367.5" stroke="#444" stroke-width="0.5"/>
<text x="377.96" y="372.2" font-family="'Liberation Sans', sans-serif" font-size="2.4" font-weight="normal" fill="#888" text-anchor="middle">1000</text>
<line x1="385.73" y1="368.9" x2="385.73" y2="367.5" stroke="#444" stroke-width="0.5"/>
<text x="385.73" y="372.2" font-family="'Liberation Sans', sans-serif" font-size="2.4" font-weight="normal" fill="#888" text-anchor="middle">1500</text>
<line x1="393.51" y1="368.9" x2="393.51" y2="367.5" stroke="#444" stroke-width="0.5"/>
<text x="393.51" y="372.2" font-family="'Liberation Sans', sans-serif" font-size="2.4" font-weight="normal" fill="#888" text-anchor="middle">2000</text>
<line x1="401.29" y1="368.9" x2="401.29" y2="367.5" stroke="#444" stroke-width="0.5"/>
<text x="401.29" y="372.2" font-family="'Liberation Sans', sans-serif" font-size="2.4" font-weight="normal" fill="#888" text-anchor="middle">2500</text>
<line x1="409.07" y1="368.9" x2="409.07" y2="367.5" stroke="#444" stroke-width="0.5"/>
<text x="409.07" y="372.2" font-family="'Liberation Sans', sans-serif" font-size="2.4" font-weight="normal" fill="#888" text-anchor="middle">3000</text>
<line x1="416.84" y1="368.9" x2="416.84" y2="367.5" stroke="#444" stroke-width="0.5"/>
<text x="416.84" y="372.2" font-family="'Liberation Sans', sans-serif" font-size="2.4" font-weight="normal" fill="#888" text-anchor="middle">3500</text>
<line x1="424.62" y1="368.9" x2="424.62" y2="367.5" stroke="#444" stroke-width="0.5"/>
<text x="424.62" y="372.2" font-family="'Liberation Sans', sans-serif" font-size="2.4" font-weight="normal" fill="#888" text-anchor="middle">4000</text>
<line x1="432.4" y1="368.9" x2="432.4" y2="367.5" stroke="#444" stroke-width="0.5"/>
<text x="432.4" y="372.2" font-family="'Liberation Sans', sans-serif" font-size="2.4" font-weight="normal" fill="#888" text-anchor="middle">4500</text>
<polyline points="370.18,336.46 377.96,336.46 385.73,336.46 393.51,336.46 401.29,336.46 409.07,336.46 416.84,336.46 424.62,336.46" fill="none" stroke="#333" stroke-width="0.6" stroke-linejoin="round"/>
<path d="M370.18 335.46L371.18 336.46L370.18 337.46L369.18 336.46Z" fill="#000"/>
<path d="M377.96 335.46L378.96 336.46L377.96 337.46L376.96 336.46Z" fill="#000"/>
<path d="M385.73 335.46L386.73 336.46L385.73 337.46L384.73 336.46Z" fill="#000"/>
<path d="M393.51 335.46L394.51 336.46L393.51 337.46L392.51 336.46Z" fill="#000"/>
<path d="M401.29 335.46L402.29 336.46L401.29 337.46L400.29 336.46Z" fill="#000"/>
<path d="M409.07 335.46L410.07 336.46L409.07 337.46L408.07 336.46Z" fill="#000"/>
<path d="M416.84 335.46L417.84 336.46L416.84 337.46L415.84 336.46Z" fill="#000"/>
<path d="M424.62 335.46L425.62 336.46L424.62 337.46L423.62 336.46Z" fill="#000"/>
<polyline points="370.18,342.62 377.96,341.65 385.73,340.67 393.51,341.97 401.29,341.65 409.07,341 416.84,341.32 424.62,340.67" fill="none" stroke="#ACDBFF" stroke-width="0.6" stroke-linejoin="round"/>
<circle cx="370.18" cy="342.62" r="0.8" fill="#92CDF8"/>
<circle cx="377.96" cy="341.65" r="0.8" fill="#92CDF8"/>
<circle cx="385.73" cy="340.67" r="0.8" fill="#92CDF8"/>
<circle cx="393.51" cy="341.97" r="0.8" fill="#92CDF8"/>
<circle cx="401.29" cy="341.65" r="0.8" fill="#92CDF8"/>
<circle cx="409.07" cy="341" r="0.8" fill="#92CDF8"/>
<circle cx="416.84" cy="341.32" r="0.8" fill="#92CDF8"/>
<circle cx="424.62" cy="340.67" r="0.8" fill="#92CDF8"/>
<polyline points="370.18,342.3 377.96,341.81 385.73,341 393.51,342.62 401.29,341 409.07,341 416.84,341.65 424.62,341" fill="none" stroke="#4AAFF8" stroke-width="0.6" stroke-linejoin="round"/>
<circle cx="370.18" cy="342.3" r="0.8" fill="#4AAFF8"/>
<circle cx="377.96" cy="341.81" r="0.8" fill="#4AAFF8"/>
<circle cx="385.73" cy="341" r="0.8" fill="#4AAFF8"/>
<circle cx="393.51" cy="342.62" r="0.8" fill="#4AAFF8"/>
<circle cx="401.29" cy="341" r="0.8" fill="#4AAFF8"/>
<circle cx="409.07" cy="341" r="0.8" fill="#4AAFF8"/>
<circle cx="416.84" cy="341.65" r="0.8" fill="#4AAFF8"/>
<circle cx="424.62" cy="341" r="0.8" fill="#4AAFF8"/>
<polyline points="370.18,339.7 377.96,340.35 385.73,339.7 393.51,340.35 401.29,339.7 409.07,340.02 416.84,340.35 424.62,339.7" fill="none" stroke="#EBC266" stroke-width="0.6" stroke-linejoin="round"/>
<circle cx="370.18" cy="339.7" r="0.8" fill="#E6BC5E"/>
<circle cx="377.96" cy="340.35" r="0.8" fill="#E6BC5E"/>
<circle cx="385.73" cy="339.7" r="0.8" fill="#E6BC5E"/>
<circle cx="393.51" cy="340.35" r="0.8" fill="#E6BC5E"/>
<circle cx="401.29" cy="339.7" r="0.8" fill="#E6BC5E"/>
<circle cx="409.07" cy="340.02" r="0.8" fill="#E6BC5E"/>
<circle cx="416.84" cy="340.35" r="0.8" fill="#E6BC5E"/>
<circle cx="424.62" cy="339.7" r="0.8" fill="#E6BC5E"/>
<polyline points="370.18,340.02 377.96,339.7 385.73,339.86 393.51,339.7 401.29,339.38 409.07,339.7 416.84,341 424.62,340.02" fill="none" stroke="#F7C29C" stroke-width="0.6" stroke-linejoin="round"/>
<circle cx="370.18" cy="340.02" r="0.8" fill="#F5B48A"/>
<circle cx="377.96" cy="339.7" r="0.8" fill="#F5B48A"/>
<circle cx="385.73" cy="339.86" r="0.8" fill="#F5B48A"/>
<circle cx="393.51" cy="339.7" r="0.8" fill="#F5B48A"/>
<circle cx="401.29" cy="339.38" r="0.8" fill="#F5B48A"/>
<circle cx="409.07" cy="339.7" r="0.8" fill="#F5B48A"/>
<circle cx="416.84" cy="341" r="0.8" fill="#F5B48A"/>
<circle cx="424.62" cy="340.02" r="0.8" fill="#F5B48A"/>
<polyline points="370.18,338.08 377.96,338.4 385.73,338.89 393.51,338.73 401.29,338.56 409.07,338.73 416.84,338.4 424.62,338.4" fill="none" stroke="#FF6666" stroke-width="0.6" stroke-linejoin="round"/>
<circle cx="370.18" cy="338.08" r="0.8" fill="#FF5555"/>
<circle cx="377.96" cy="338.4" r="0.8" fill="#FF5555"/>
<circle cx="385.73" cy="338.89" r="0.8" fill="#FF5555"/>
<circle cx="393.51" cy="338.73" r="0.8" fill="#FF5555"/>
<circle cx="401.29" cy="338.56" r="0.8" fill="#FF5555"/>
<circle cx="409.07" cy="338.73" r="0.8" fill="#FF5555"/>
<circle cx="416.84" cy="338.4" r="0.8" fill="#FF5555"/>
<circle cx="424.62" cy="338.4" r="0.8" fill="#FF5555"/>
<polyline points="370.18,337.75 377.96,338.08 385.73,338.73 393.51,338.73 401.29,338.4 409.07,339.05 416.84,338.08 424.62,338.08" fill="none" stroke="#FFBEE2" stroke-width="0.6" stroke-linejoin="round"/>
<circle cx="370.18" cy="337.75" r="0.8" fill="#FF86CC"/>
<circle cx="377.96" cy="338.08" r="0.8" fill="#FF86CC"/>
<circle cx="385.73" cy="338.73" r="0.8" fill="#FF86CC"/>
<circle cx="393.51" cy="338.73" r="0.8" fill="#FF86CC"/>
<circle cx="401.29" cy="338.4" r="0.8" fill="#FF86CC"/>
<circle cx="409.07" cy="339.05" r="0.8" fill="#FF86CC"/>
<circle cx="416.84" cy="338.08" r="0.8" fill="#FF86CC"/>
<circle cx="424.62" cy="338.08" r="0.8" fill="#FF86CC"/>
<rect x="362.4" y="310.5" width="70" height="58.4" fill="none" stroke="#222" stroke-width="0.9"/>
<line x1="365.7" y1="315.7" x2="372.3" y2="315.7" stroke="#222" stroke-width="0.6"/>
<path d="M369 314.82L369.88 315.7L369 316.57L368.12 315.7Z" fill="#000"/>
<text x="373.6" y="317.2" font-family="'Liberation Serif', serif" font-size="4.5" font-weight="bold" fill="#222" text-anchor="start" textLength="11.06" lengthAdjust="spacingAndGlyphs" stroke="#222" stroke-width="0.16">Unbent</text>
<line x1="365.7" y1="320.1" x2="372.3" y2="320.1" stroke="#FF6666" stroke-width="0.6"/>
<circle cx="369" cy="320.1" r="0.7" fill="#FF5555"/>
<text x="373.6" y="321.6" font-family="'Liberation Serif', serif" font-size="4.5" font-weight="bold" fill="#222" text-anchor="start" textLength="21" lengthAdjust="spacingAndGlyphs" stroke="#222" stroke-width="0.16">Flex-in 15mm</text>
<line x1="365.7" y1="324.7" x2="372.3" y2="324.7" stroke="#FFBEE2" stroke-width="0.6"/>
<circle cx="369" cy="324.7" r="0.7" fill="#FF86CC"/>
<text x="373.6" y="326.2" font-family="'Liberation Serif', serif" font-size="4.5" font-weight="bold" fill="#222" text-anchor="start" textLength="21.7" lengthAdjust="spacingAndGlyphs" stroke="#222" stroke-width="0.16">Flex-out 15mm</text>
<line x1="365.7" y1="329.5" x2="372.3" y2="329.5" stroke="#F7C29C" stroke-width="0.6"/>
<circle cx="369" cy="329.5" r="0.7" fill="#F5B48A"/>
<text x="373.6" y="331" font-family="'Liberation Serif', serif" font-size="4.5" font-weight="bold" fill="#222" text-anchor="start" textLength="21" lengthAdjust="spacingAndGlyphs" stroke="#222" stroke-width="0.16">Flex-in 10mm</text>
<line x1="396" y1="320.1" x2="402.6" y2="320.1" stroke="#EBC266" stroke-width="0.6"/>
<circle cx="399.3" cy="320.1" r="0.7" fill="#E6BC5E"/>
<text x="403.9" y="321.6" font-family="'Liberation Serif', serif" font-size="4.5" font-weight="bold" fill="#222" text-anchor="start" textLength="22.05" lengthAdjust="spacingAndGlyphs" stroke="#222" stroke-width="0.16">Flex-out 10mm</text>
<line x1="396" y1="324.7" x2="402.6" y2="324.7" stroke="#4AAFF8" stroke-width="0.6"/>
<circle cx="399.3" cy="324.7" r="0.7" fill="#4AAFF8"/>
<text x="403.9" y="326.2" font-family="'Liberation Serif', serif" font-size="4.5" font-weight="bold" fill="#222" text-anchor="start" textLength="19.04" lengthAdjust="spacingAndGlyphs" stroke="#222" stroke-width="0.16">Flex-in 5mm</text>
<line x1="396" y1="329.5" x2="402.6" y2="329.5" stroke="#ACDBFF" stroke-width="0.6"/>
<circle cx="399.3" cy="329.5" r="0.7" fill="#92CDF8"/>
<text x="403.9" y="331" font-family="'Liberation Serif', serif" font-size="4.5" font-weight="bold" fill="#222" text-anchor="start" textLength="20.44" lengthAdjust="spacingAndGlyphs" stroke="#222" stroke-width="0.16">Flex-out 5mm</text>
<text x="0" y="0" font-family="'Liberation Serif', serif" font-size="6.4" font-weight="bold" fill="#111" text-anchor="middle" textLength="26" lengthAdjust="spacingAndGlyphs" transform="translate(352.9 339.4) rotate(-90)" dominant-baseline="central">V<tspan font-size="3.6" dy="1">B</tspan><tspan dy="-1">/V (%)</tspan></text>
<text x="397" y="376.8" font-family="'Liberation Serif', serif" font-size="6.8" font-weight="bold" fill="#111" stroke="#111" stroke-width="0.2" text-anchor="middle" textLength="22" lengthAdjust="spacingAndGlyphs">H<tspan font-size="3.4" dy="0.68">DC</tspan><tspan dy="-0.68"> (Oe)</tspan></text>
<rect x="257.5" y="226.5" width="184.7" height="153.5" fill="none" stroke="#444" stroke-width="1.3"/>
<text x="0" y="0" font-family="'Liberation Serif', serif" font-size="11.2" font-weight="bold" fill="#000" stroke="#000" stroke-width="0.34" text-anchor="middle" textLength="51" lengthAdjust="spacingAndGlyphs" transform="translate(236.9 303.2) rotate(-90)" dominant-baseline="central"><tspan font-weight="normal" stroke-width="0" font-size="14">α</tspan><tspan font-size="5.6" dy="2.24">EB</tspan><tspan dy="-2.24">/</tspan><tspan font-weight="normal" stroke-width="0" font-size="14">α</tspan><tspan font-size="5.6" dy="2.24">E</tspan><tspan dy="-2.24"> (%)</tspan></text>
<text x="348.1" y="404.1" font-family="'Liberation Serif', serif" font-size="13.3" font-weight="bold" fill="#000" stroke="#000" stroke-width="0.4" text-anchor="middle" textLength="40.3" lengthAdjust="spacingAndGlyphs">H<tspan font-size="6.65" dy="1.33">DC</tspan><tspan dy="-1.33"> (Oe)</tspan></text>
<text x="468.7" y="216.6" font-family="'Liberation Serif', serif" font-size="19" font-weight="bold" fill="#000" text-anchor="start" textLength="17.7" lengthAdjust="spacingAndGlyphs">(f)</text>
<line x1="498.6" y1="377.9" x2="501.6" y2="377.9" stroke="#222" stroke-width="0.9"/>
<line x1="498.6" y1="369.5" x2="500.2" y2="369.5" stroke="#222" stroke-width="0.9"/>
<line x1="498.6" y1="361.1" x2="501.6" y2="361.1" stroke="#222" stroke-width="0.9"/>
<line x1="498.6" y1="352.7" x2="500.2" y2="352.7" stroke="#222" stroke-width="0.9"/>
<line x1="498.6" y1="344.3" x2="501.6" y2="344.3" stroke="#222" stroke-width="0.9"/>
<line x1="498.6" y1="335.9" x2="500.2" y2="335.9" stroke="#222" stroke-width="0.9"/>
<line x1="498.6" y1="327.5" x2="501.6" y2="327.5" stroke="#222" stroke-width="0.9"/>
<line x1="498.6" y1="319.1" x2="500.2" y2="319.1" stroke="#222" stroke-width="0.9"/>
<line x1="498.6" y1="310.7" x2="501.6" y2="310.7" stroke="#222" stroke-width="0.9"/>
<line x1="498.6" y1="302.3" x2="500.2" y2="302.3" stroke="#222" stroke-width="0.9"/>
<line x1="498.6" y1="293.9" x2="501.6" y2="293.9" stroke="#222" stroke-width="0.9"/>
<line x1="498.6" y1="285.5" x2="500.2" y2="285.5" stroke="#222" stroke-width="0.9"/>
<line x1="498.6" y1="277.1" x2="501.6" y2="277.1" stroke="#222" stroke-width="0.9"/>
<line x1="498.6" y1="268.7" x2="500.2" y2="268.7" stroke="#222" stroke-width="0.9"/>
<line x1="498.6" y1="260.3" x2="501.6" y2="260.3" stroke="#222" stroke-width="0.9"/>
<line x1="498.6" y1="251.9" x2="500.2" y2="251.9" stroke="#222" stroke-width="0.9"/>
<line x1="498.6" y1="243.5" x2="501.6" y2="243.5" stroke="#222" stroke-width="0.9"/>
<line x1="498.6" y1="235.1" x2="500.2" y2="235.1" stroke="#222" stroke-width="0.9"/>
<line x1="498.6" y1="226.7" x2="501.6" y2="226.7" stroke="#222" stroke-width="0.9"/>
<line x1="508" y1="378.7" x2="508" y2="376.1" stroke="#222" stroke-width="0.9"/>
<line x1="519.85" y1="378.7" x2="519.85" y2="377.2" stroke="#222" stroke-width="0.9"/>
<line x1="531.69" y1="378.7" x2="531.69" y2="376.1" stroke="#222" stroke-width="0.9"/>
<line x1="543.53" y1="378.7" x2="543.53" y2="377.2" stroke="#222" stroke-width="0.9"/>
<line x1="555.38" y1="378.7" x2="555.38" y2="376.1" stroke="#222" stroke-width="0.9"/>
<line x1="567.23" y1="378.7" x2="567.23" y2="377.2" stroke="#222" stroke-width="0.9"/>
<line x1="579.07" y1="378.7" x2="579.07" y2="376.1" stroke="#222" stroke-width="0.9"/>
<line x1="590.91" y1="378.7" x2="590.91" y2="377.2" stroke="#222" stroke-width="0.9"/>
<line x1="602.76" y1="378.7" x2="602.76" y2="376.1" stroke="#222" stroke-width="0.9"/>
<line x1="614.61" y1="378.7" x2="614.61" y2="377.2" stroke="#222" stroke-width="0.9"/>
<line x1="626.45" y1="378.7" x2="626.45" y2="376.1" stroke="#222" stroke-width="0.9"/>
<line x1="638.3" y1="378.7" x2="638.3" y2="377.2" stroke="#222" stroke-width="0.9"/>
<line x1="650.14" y1="378.7" x2="650.14" y2="376.1" stroke="#222" stroke-width="0.9"/>
<line x1="661.99" y1="378.7" x2="661.99" y2="377.2" stroke="#222" stroke-width="0.9"/>
<line x1="673.83" y1="378.7" x2="673.83" y2="376.1" stroke="#222" stroke-width="0.9"/>
<text x="494.8" y="380.3" font-family="'Liberation Sans', sans-serif" font-size="6.6" font-weight="normal" fill="#3a3a3a" text-anchor="end">0</text>
<text x="494.8" y="363.5" font-family="'Liberation Sans', sans-serif" font-size="6.6" font-weight="normal" fill="#3a3a3a" text-anchor="end">20</text>
<text x="494.8" y="346.7" font-family="'Liberation Sans', sans-serif" font-size="6.6" font-weight="normal" fill="#3a3a3a" text-anchor="end">40</text>
<text x="494.8" y="329.9" font-family="'Liberation Sans', sans-serif" font-size="6.6" font-weight="normal" fill="#3a3a3a" text-anchor="end">60</text>
<text x="494.8" y="313.1" font-family="'Liberation Sans', sans-serif" font-size="6.6" font-weight="normal" fill="#3a3a3a" text-anchor="end">80</text>
<text x="494.8" y="296.3" font-family="'Liberation Sans', sans-serif" font-size="6.6" font-weight="normal" fill="#3a3a3a" text-anchor="end">100</text>
<text x="494.8" y="279.5" font-family="'Liberation Sans', sans-serif" font-size="6.6" font-weight="normal" fill="#3a3a3a" text-anchor="end">120</text>
<text x="494.8" y="262.7" font-family="'Liberation Sans', sans-serif" font-size="6.6" font-weight="normal" fill="#3a3a3a" text-anchor="end">140</text>
<text x="494.8" y="245.9" font-family="'Liberation Sans', sans-serif" font-size="6.6" font-weight="normal" fill="#3a3a3a" text-anchor="end">160</text>
<text x="494.8" y="229.1" font-family="'Liberation Sans', sans-serif" font-size="6.6" font-weight="normal" fill="#3a3a3a" text-anchor="end">180</text>
<text x="508" y="386.8" font-family="'Liberation Sans', sans-serif" font-size="6.6" font-weight="normal" fill="#3a3a3a" text-anchor="middle">500</text>
<text x="531.69" y="386.8" font-family="'Liberation Sans', sans-serif" font-size="6.6" font-weight="normal" fill="#3a3a3a" text-anchor="middle">1000</text>
<text x="555.38" y="386.8" font-family="'Liberation Sans', sans-serif" font-size="6.6" font-weight="normal" fill="#3a3a3a" text-anchor="middle">1500</text>
<text x="579.07" y="386.8" font-family="'Liberation Sans', sans-serif" font-size="6.6" font-weight="normal" fill="#3a3a3a" text-anchor="middle">2000</text>
<text x="602.76" y="386.8" font-family="'Liberation Sans', sans-serif" font-size="6.6" font-weight="normal" fill="#3a3a3a" text-anchor="middle">2500</text>
<text x="626.45" y="386.8" font-family="'Liberation Sans', sans-serif" font-size="6.6" font-weight="normal" fill="#3a3a3a" text-anchor="middle">3000</text>
<text x="650.14" y="386.8" font-family="'Liberation Sans', sans-serif" font-size="6.6" font-weight="normal" fill="#3a3a3a" text-anchor="middle">3500</text>
<text x="673.83" y="386.8" font-family="'Liberation Sans', sans-serif" font-size="6.6" font-weight="normal" fill="#3a3a3a" text-anchor="middle">4000</text>
<polyline points="508,293.9 531.69,293.9 555.38,293.9 579.07,293.9 602.76,293.9 626.45,293.9 650.14,293.9 673.83,293.9" fill="none" stroke="#7a7a7a" stroke-width="1.1" stroke-linejoin="round"/>
<polyline points="508,317.42 531.69,310.7 555.38,308.18 579.07,310.7 602.76,308.18 626.45,306.5 650.14,307.34 673.83,304.82" fill="none" stroke="#B4DEFF" stroke-width="1" stroke-linejoin="round"/>
<polyline points="508,314.06 531.69,309.86 555.38,307.34 579.07,310.7 602.76,307.34 626.45,305.66 650.14,306.5 673.83,302.3" fill="none" stroke="#4AAFF8" stroke-width="1" stroke-linejoin="round"/>
<polyline points="508,307.34 531.69,306.5 555.38,303.98 579.07,308.18 602.76,305.66 626.45,306.5 650.14,304.82 673.83,300.62" fill="none" stroke="#EBC266" stroke-width="1" stroke-linejoin="round"/>
<polyline points="508,303.98 531.69,306.5 555.38,302.72 579.07,307.34 602.76,303.98 626.45,305.66 650.14,303.14 673.83,298.1" fill="none" stroke="#F5A872" stroke-width="1" stroke-linejoin="round"/>
<polyline points="508,300.62 531.69,298.94 555.38,298.1 579.07,303.56 602.76,299.36 626.45,301.46 650.14,298.52 673.83,297.26" fill="none" stroke="#FF7E7E" stroke-width="1" stroke-linejoin="round"/>
<polyline points="508,300.62 531.69,300.62 555.38,301.46 579.07,303.98 602.76,300.62 626.45,303.98 650.14,301.46 673.83,299.78" fill="none" stroke="#FFBEE2" stroke-width="1.3" stroke-linejoin="round"/>
<path d="M508 291.96L509.94 293.9L508 295.84L506.06 293.9Z" fill="#000"/>
<path d="M531.69 291.96L533.63 293.9L531.69 295.84L529.75 293.9Z" fill="#000"/>
<path d="M555.38 291.96L557.32 293.9L555.38 295.84L553.44 293.9Z" fill="#000"/>
<path d="M579.07 291.96L581.01 293.9L579.07 295.84L577.13 293.9Z" fill="#000"/>
<path d="M602.76 291.96L604.7 293.9L602.76 295.84L600.82 293.9Z" fill="#000"/>
<path d="M626.45 291.96L628.39 293.9L626.45 295.84L624.51 293.9Z" fill="#000"/>
<path d="M650.14 291.96L652.08 293.9L650.14 295.84L648.2 293.9Z" fill="#000"/>
<path d="M673.83 291.96L675.77 293.9L673.83 295.84L671.89 293.9Z" fill="#000"/>
<path d="M508 315.48L509.94 317.42L508 319.36L506.06 317.42Z" fill="#92CDF8"/>
<path d="M531.69 308.76L533.63 310.7L531.69 312.64L529.75 310.7Z" fill="#92CDF8"/>
<path d="M555.38 306.24L557.32 308.18L555.38 310.12L553.44 308.18Z" fill="#92CDF8"/>
<path d="M579.07 308.76L581.01 310.7L579.07 312.64L577.13 310.7Z" fill="#92CDF8"/>
<path d="M602.76 306.24L604.7 308.18L602.76 310.12L600.82 308.18Z" fill="#92CDF8"/>
<path d="M626.45 304.56L628.39 306.5L626.45 308.44L624.51 306.5Z" fill="#92CDF8"/>
<path d="M650.14 305.4L652.08 307.34L650.14 309.28L648.2 307.34Z" fill="#92CDF8"/>
<path d="M673.83 302.88L675.77 304.82L673.83 306.76L671.89 304.82Z" fill="#92CDF8"/>
<path d="M508 312.12L509.94 314.06L508 316L506.06 314.06Z" fill="#4AAFF8"/>
<path d="M531.69 307.92L533.63 309.86L531.69 311.8L529.75 309.86Z" fill="#4AAFF8"/>
<path d="M555.38 305.4L557.32 307.34L555.38 309.28L553.44 307.34Z" fill="#4AAFF8"/>
<path d="M579.07 308.76L581.01 310.7L579.07 312.64L577.13 310.7Z" fill="#4AAFF8"/>
<path d="M602.76 305.4L604.7 307.34L602.76 309.28L600.82 307.34Z" fill="#4AAFF8"/>
<path d="M626.45 303.72L628.39 305.66L626.45 307.6L624.51 305.66Z" fill="#4AAFF8"/>
<path d="M650.14 304.56L652.08 306.5L650.14 308.44L648.2 306.5Z" fill="#4AAFF8"/>
<path d="M673.83 300.36L675.77 302.3L673.83 304.24L671.89 302.3Z" fill="#4AAFF8"/>
<circle cx="508" cy="307.34" r="1.55" fill="#E6BC5E"/>
<circle cx="531.69" cy="306.5" r="1.55" fill="#E6BC5E"/>
<circle cx="555.38" cy="303.98" r="1.55" fill="#E6BC5E"/>
<circle cx="579.07" cy="308.18" r="1.55" fill="#E6BC5E"/>
<circle cx="602.76" cy="305.66" r="1.55" fill="#E6BC5E"/>
<circle cx="626.45" cy="306.5" r="1.55" fill="#E6BC5E"/>
<circle cx="650.14" cy="304.82" r="1.55" fill="#E6BC5E"/>
<circle cx="673.83" cy="300.62" r="1.55" fill="#E6BC5E"/>
<circle cx="508" cy="303.98" r="1.55" fill="#F5A872"/>
<circle cx="531.69" cy="306.5" r="1.55" fill="#F5A872"/>
<circle cx="555.38" cy="302.72" r="1.55" fill="#F5A872"/>
<circle cx="579.07" cy="307.34" r="1.55" fill="#F5A872"/>
<circle cx="602.76" cy="303.98" r="1.55" fill="#F5A872"/>
<circle cx="626.45" cy="305.66" r="1.55" fill="#F5A872"/>
<circle cx="650.14" cy="303.14" r="1.55" fill="#F5A872"/>
<circle cx="673.83" cy="298.1" r="1.55" fill="#F5A872"/>
<rect x="506.45" y="299.07" width="3.1" height="3.1" fill="#FF5555"/>
<rect x="530.14" y="297.39" width="3.1" height="3.1" fill="#FF5555"/>
<rect x="553.83" y="296.55" width="3.1" height="3.1" fill="#FF5555"/>
<rect x="577.52" y="302.01" width="3.1" height="3.1" fill="#FF5555"/>
<rect x="601.21" y="297.81" width="3.1" height="3.1" fill="#FF5555"/>
<rect x="624.9" y="299.91" width="3.1" height="3.1" fill="#FF5555"/>
<rect x="648.59" y="296.97" width="3.1" height="3.1" fill="#FF5555"/>
<rect x="672.28" y="295.71" width="3.1" height="3.1" fill="#FF5555"/>
<rect x="506.45" y="299.07" width="3.1" height="3.1" fill="#FF86CC"/>
<rect x="530.14" y="299.07" width="3.1" height="3.1" fill="#FF86CC"/>
<rect x="553.83" y="299.91" width="3.1" height="3.1" fill="#FF86CC"/>
<rect x="577.52" y="302.43" width="3.1" height="3.1" fill="#FF86CC"/>
<rect x="601.21" y="299.07" width="3.1" height="3.1" fill="#FF86CC"/>
<rect x="624.9" y="302.43" width="3.1" height="3.1" fill="#FF86CC"/>
<rect x="648.59" y="299.91" width="3.1" height="3.1" fill="#FF86CC"/>
<rect x="672.28" y="298.23" width="3.1" height="3.1" fill="#FF86CC"/>
<text x="508.8" y="235.7" font-family="'Liberation Serif', serif" font-size="7.3" font-weight="bold" fill="#111" text-anchor="start" textLength="44.7" lengthAdjust="spacingAndGlyphs" stroke="#111" stroke-width="0.26">Nano structure</text>
<line x1="508.8" y1="243.6" x2="525.8" y2="243.6" stroke="#7a7a7a" stroke-width="1.3"/>
<path d="M517.3 241.6L519.3 243.6L517.3 245.6L515.3 243.6Z" fill="#000"/>
<text x="527.6" y="245.8" font-family="'Liberation Serif', serif" font-size="6.6" font-weight="bold" fill="#111" text-anchor="start" textLength="17.5" lengthAdjust="spacingAndGlyphs" stroke="#111" stroke-width="0.23">Unbent</text>
<line x1="508.8" y1="253.1" x2="525.8" y2="253.1" stroke="#FF7E7E" stroke-width="1.2"/>
<rect x="515.7" y="251.5" width="3.2" height="3.2" fill="#FF5555"/>
<text x="527.6" y="255.3" font-family="'Liberation Serif', serif" font-size="6.6" font-weight="bold" fill="#111" text-anchor="start" textLength="32.7" lengthAdjust="spacingAndGlyphs" stroke="#111" stroke-width="0.23">Flex-in 15mm</text>
<line x1="508.8" y1="263.1" x2="525.8" y2="263.1" stroke="#FFBEE2" stroke-width="1.5"/>
<rect x="515.7" y="261.5" width="3.2" height="3.2" fill="#FF86CC"/>
<text x="527.6" y="265.3" font-family="'Liberation Serif', serif" font-size="6.6" font-weight="bold" fill="#111" text-anchor="start" textLength="36" lengthAdjust="spacingAndGlyphs" stroke="#111" stroke-width="0.23">Flex-out 15mm</text>
<line x1="508.8" y1="272.6" x2="525.8" y2="272.6" stroke="#F5A872" stroke-width="1.2"/>
<circle cx="517.3" cy="272.6" r="1.6" fill="#F5A872"/>
<text x="527.6" y="274.8" font-family="'Liberation Serif', serif" font-size="6.6" font-weight="bold" fill="#111" text-anchor="start" textLength="33" lengthAdjust="spacingAndGlyphs" stroke="#111" stroke-width="0.23">Flex-in 10mm</text>
<line x1="565.6" y1="253.1" x2="582.6" y2="253.1" stroke="#EBC266" stroke-width="1.2"/>
<circle cx="574.1" cy="253.1" r="1.6" fill="#E6BC5E"/>
<text x="584.4" y="255.3" font-family="'Liberation Serif', serif" font-size="6.6" font-weight="bold" fill="#111" text-anchor="start" textLength="36" lengthAdjust="spacingAndGlyphs" stroke="#111" stroke-width="0.23">Flex-out 10mm</text>
<line x1="565.6" y1="263.1" x2="582.6" y2="263.1" stroke="#4AAFF8" stroke-width="1.2"/>
<path d="M574.1 261.1L576.1 263.1L574.1 265.1L572.1 263.1Z" fill="#4AAFF8"/>
<text x="584.4" y="265.3" font-family="'Liberation Serif', serif" font-size="6.6" font-weight="bold" fill="#111" text-anchor="start" textLength="29" lengthAdjust="spacingAndGlyphs" stroke="#111" stroke-width="0.23">Flex-in 5mm</text>
<line x1="565.6" y1="272.6" x2="582.6" y2="272.6" stroke="#B4DEFF" stroke-width="1.2"/>
<path d="M574.1 270.6L576.1 272.6L574.1 274.6L572.1 272.6Z" fill="#92CDF8"/>
<text x="584.4" y="274.8" font-family="'Liberation Serif', serif" font-size="6.6" font-weight="bold" fill="#111" text-anchor="start" textLength="32.5" lengthAdjust="spacingAndGlyphs" stroke="#111" stroke-width="0.23">Flex-out 5mm</text>
<path d="M508.9 332 A19.7 22.9 0 0 0 548.3 332 L542.8 332 A14.2 15 0 0 1 514.4 332 Z" fill="#FBE5D6"/>
<path d="M514.4 332 A14.2 15 0 0 0 542.8 332 L535.5 332 A6.9 8.3 0 0 1 521.7 332 Z" fill="#4472C4"/>
<path d="M554.9 353 A19.1 20.7 0 0 1 593.1 353 L587.1 353 A13.1 12.7 0 0 0 560.9 353 Z" fill="#4472C4"/>
<path d="M560.9 353 A13.1 12.7 0 0 1 587.1 353 L580.2 353 A6.2 6.1 0 0 0 567.8 353 Z" fill="#FBE5D6"/>
<text x="528.6" y="345.9" font-family="'Liberation Serif', serif" font-size="7" font-weight="normal" fill="#fff" text-anchor="middle" textLength="11.8" lengthAdjust="spacingAndGlyphs">Film</text>
<text x="528.6" y="352.9" font-family="'Liberation Serif', serif" font-size="7" font-weight="normal" fill="#1a1a1a" text-anchor="middle" textLength="13.2" lengthAdjust="spacingAndGlyphs">Mica</text>
<text x="574" y="337.9" font-family="'Liberation Serif', serif" font-size="7" font-weight="normal" fill="#fff" text-anchor="middle" textLength="11.8" lengthAdjust="spacingAndGlyphs">Film</text>
<text x="574" y="344.7" font-family="'Liberation Serif', serif" font-size="7" font-weight="normal" fill="#1a1a1a" text-anchor="middle" textLength="12.9" lengthAdjust="spacingAndGlyphs">Mica</text>
<text x="529" y="365" font-family="'Liberation Serif', serif" font-size="8.4" font-weight="bold" fill="#111" text-anchor="middle" textLength="22.7" lengthAdjust="spacingAndGlyphs" stroke="#111" stroke-width="0.29">Flex-in</text>
<text x="574.7" y="366.5" font-family="'Liberation Serif', serif" font-size="8.4" font-weight="bold" fill="#111" text-anchor="middle" textLength="26.6" lengthAdjust="spacingAndGlyphs" stroke="#111" stroke-width="0.29">Flex-out</text>
<rect x="609.2" y="310.3" width="67.9" height="58" fill="#fff"/>
<line x1="609.2" y1="368.3" x2="610.6" y2="368.3" stroke="#444" stroke-width="0.5"/>
<text x="608" y="369.2" font-family="'Liberation Sans', sans-serif" font-size="2.6" font-weight="normal" fill="#888" text-anchor="end">0</text>
<line x1="609.2" y1="361.86" x2="610.6" y2="361.86" stroke="#444" stroke-width="0.5"/>
<text x="608" y="362.76" font-family="'Liberation Sans', sans-serif" font-size="2.6" font-weight="normal" fill="#888" text-anchor="end">20</text>
<line x1="609.2" y1="355.41" x2="610.6" y2="355.41" stroke="#444" stroke-width="0.5"/>
<text x="608" y="356.31" font-family="'Liberation Sans', sans-serif" font-size="2.6" font-weight="normal" fill="#888" text-anchor="end">40</text>
<line x1="609.2" y1="348.97" x2="610.6" y2="348.97" stroke="#444" stroke-width="0.5"/>
<text x="608" y="349.87" font-family="'Liberation Sans', sans-serif" font-size="2.6" font-weight="normal" fill="#888" text-anchor="end">60</text>
<line x1="609.2" y1="342.52" x2="610.6" y2="342.52" stroke="#444" stroke-width="0.5"/>
<text x="608" y="343.42" font-family="'Liberation Sans', sans-serif" font-size="2.6" font-weight="normal" fill="#888" text-anchor="end">80</text>
<line x1="609.2" y1="336.08" x2="610.6" y2="336.08" stroke="#444" stroke-width="0.5"/>
<text x="608" y="336.98" font-family="'Liberation Sans', sans-serif" font-size="2.6" font-weight="normal" fill="#888" text-anchor="end">100</text>
<line x1="609.2" y1="329.63" x2="610.6" y2="329.63" stroke="#444" stroke-width="0.5"/>
<text x="608" y="330.53" font-family="'Liberation Sans', sans-serif" font-size="2.6" font-weight="normal" fill="#888" text-anchor="end">120</text>
<line x1="609.2" y1="323.19" x2="610.6" y2="323.19" stroke="#444" stroke-width="0.5"/>
<text x="608" y="324.09" font-family="'Liberation Sans', sans-serif" font-size="2.6" font-weight="normal" fill="#888" text-anchor="end">140</text>
<line x1="609.2" y1="316.74" x2="610.6" y2="316.74" stroke="#444" stroke-width="0.5"/>
<text x="608" y="317.64" font-family="'Liberation Sans', sans-serif" font-size="2.6" font-weight="normal" fill="#888" text-anchor="end">160</text>
<line x1="609.2" y1="310.3" x2="610.6" y2="310.3" stroke="#444" stroke-width="0.5"/>
<text x="608" y="311.2" font-family="'Liberation Sans', sans-serif" font-size="2.6" font-weight="normal" fill="#888" text-anchor="end">180</text>
<line x1="609.2" y1="368.3" x2="609.2" y2="366.9" stroke="#444" stroke-width="0.5"/>
<text x="609.2" y="371.6" font-family="'Liberation Sans', sans-serif" font-size="2.4" font-weight="normal" fill="#888" text-anchor="middle">0</text>
<line x1="616.74" y1="368.3" x2="616.74" y2="366.9" stroke="#444" stroke-width="0.5"/>
<text x="616.74" y="371.6" font-family="'Liberation Sans', sans-serif" font-size="2.4" font-weight="normal" fill="#888" text-anchor="middle">500</text>
<line x1="624.29" y1="368.3" x2="624.29" y2="366.9" stroke="#444" stroke-width="0.5"/>
<text x="624.29" y="371.6" font-family="'Liberation Sans', sans-serif" font-size="2.4" font-weight="normal" fill="#888" text-anchor="middle">1000</text>
<line x1="631.83" y1="368.3" x2="631.83" y2="366.9" stroke="#444" stroke-width="0.5"/>
<text x="631.83" y="371.6" font-family="'Liberation Sans', sans-serif" font-size="2.4" font-weight="normal" fill="#888" text-anchor="middle">1500</text>
<line x1="639.38" y1="368.3" x2="639.38" y2="366.9" stroke="#444" stroke-width="0.5"/>
<text x="639.38" y="371.6" font-family="'Liberation Sans', sans-serif" font-size="2.4" font-weight="normal" fill="#888" text-anchor="middle">2000</text>
<line x1="646.92" y1="368.3" x2="646.92" y2="366.9" stroke="#444" stroke-width="0.5"/>
<text x="646.92" y="371.6" font-family="'Liberation Sans', sans-serif" font-size="2.4" font-weight="normal" fill="#888" text-anchor="middle">2500</text>
<line x1="654.47" y1="368.3" x2="654.47" y2="366.9" stroke="#444" stroke-width="0.5"/>
<text x="654.47" y="371.6" font-family="'Liberation Sans', sans-serif" font-size="2.4" font-weight="normal" fill="#888" text-anchor="middle">3000</text>
<line x1="662.01" y1="368.3" x2="662.01" y2="366.9" stroke="#444" stroke-width="0.5"/>
<text x="662.01" y="371.6" font-family="'Liberation Sans', sans-serif" font-size="2.4" font-weight="normal" fill="#888" text-anchor="middle">3500</text>
<line x1="669.56" y1="368.3" x2="669.56" y2="366.9" stroke="#444" stroke-width="0.5"/>
<text x="669.56" y="371.6" font-family="'Liberation Sans', sans-serif" font-size="2.4" font-weight="normal" fill="#888" text-anchor="middle">4000</text>
<line x1="677.1" y1="368.3" x2="677.1" y2="366.9" stroke="#444" stroke-width="0.5"/>
<text x="677.1" y="371.6" font-family="'Liberation Sans', sans-serif" font-size="2.4" font-weight="normal" fill="#888" text-anchor="middle">4500</text>
<polyline points="616.74,336.08 624.29,336.08 631.83,336.08 639.38,336.08 646.92,336.08 654.47,336.08 662.01,336.08 669.56,336.08" fill="none" stroke="#333" stroke-width="0.6" stroke-linejoin="round"/>
<path d="M616.74 335.08L617.74 336.08L616.74 337.08L615.74 336.08Z" fill="#000"/>
<path d="M624.29 335.08L625.29 336.08L624.29 337.08L623.29 336.08Z" fill="#000"/>
<path d="M631.83 335.08L632.83 336.08L631.83 337.08L630.83 336.08Z" fill="#000"/>
<path d="M639.38 335.08L640.38 336.08L639.38 337.08L638.38 336.08Z" fill="#000"/>
<path d="M646.92 335.08L647.92 336.08L646.92 337.08L645.92 336.08Z" fill="#000"/>
<path d="M654.47 335.08L655.47 336.08L654.47 337.08L653.47 336.08Z" fill="#000"/>
<path d="M662.01 335.08L663.01 336.08L662.01 337.08L661.01 336.08Z" fill="#000"/>
<path d="M669.56 335.08L670.56 336.08L669.56 337.08L668.56 336.08Z" fill="#000"/>
<polyline points="616.74,345.1 624.29,342.52 631.83,341.56 639.38,342.52 646.92,341.56 654.47,340.91 662.01,341.23 669.56,340.27" fill="none" stroke="#B4DEFF" stroke-width="0.6" stroke-linejoin="round"/>
<circle cx="616.74" cy="345.1" r="0.8" fill="#92CDF8"/>
<circle cx="624.29" cy="342.52" r="0.8" fill="#92CDF8"/>
<circle cx="631.83" cy="341.56" r="0.8" fill="#92CDF8"/>
<circle cx="639.38" cy="342.52" r="0.8" fill="#92CDF8"/>
<circle cx="646.92" cy="341.56" r="0.8" fill="#92CDF8"/>
<circle cx="654.47" cy="340.91" r="0.8" fill="#92CDF8"/>
<circle cx="662.01" cy="341.23" r="0.8" fill="#92CDF8"/>
<circle cx="669.56" cy="340.27" r="0.8" fill="#92CDF8"/>
<polyline points="616.74,343.81 624.29,342.2 631.83,341.23 639.38,342.52 646.92,341.23 654.47,340.59 662.01,340.91 669.56,339.3" fill="none" stroke="#4AAFF8" stroke-width="0.6" stroke-linejoin="round"/>
<circle cx="616.74" cy="343.81" r="0.8" fill="#4AAFF8"/>
<circle cx="624.29" cy="342.2" r="0.8" fill="#4AAFF8"/>
<circle cx="631.83" cy="341.23" r="0.8" fill="#4AAFF8"/>
<circle cx="639.38" cy="342.52" r="0.8" fill="#4AAFF8"/>
<circle cx="646.92" cy="341.23" r="0.8" fill="#4AAFF8"/>
<circle cx="654.47" cy="340.59" r="0.8" fill="#4AAFF8"/>
<circle cx="662.01" cy="340.91" r="0.8" fill="#4AAFF8"/>
<circle cx="669.56" cy="339.3" r="0.8" fill="#4AAFF8"/>
<polyline points="616.74,341.23 624.29,340.91 631.83,339.94 639.38,341.56 646.92,340.59 654.47,340.91 662.01,340.27 669.56,338.66" fill="none" stroke="#EBC266" stroke-width="0.6" stroke-linejoin="round"/>
<circle cx="616.74" cy="341.23" r="0.8" fill="#E6BC5E"/>
<circle cx="624.29" cy="340.91" r="0.8" fill="#E6BC5E"/>
<circle cx="631.83" cy="339.94" r="0.8" fill="#E6BC5E"/>
<circle cx="639.38" cy="341.56" r="0.8" fill="#E6BC5E"/>
<circle cx="646.92" cy="340.59" r="0.8" fill="#E6BC5E"/>
<circle cx="654.47" cy="340.91" r="0.8" fill="#E6BC5E"/>
<circle cx="662.01" cy="340.27" r="0.8" fill="#E6BC5E"/>
<circle cx="669.56" cy="338.66" r="0.8" fill="#E6BC5E"/>
<polyline points="616.74,339.94 624.29,340.91 631.83,339.46 639.38,341.23 646.92,339.94 654.47,340.59 662.01,339.62 669.56,337.69" fill="none" stroke="#F5A872" stroke-width="0.6" stroke-linejoin="round"/>
<circle cx="616.74" cy="339.94" r="0.8" fill="#F5A872"/>
<circle cx="624.29" cy="340.91" r="0.8" fill="#F5A872"/>
<circle cx="631.83" cy="339.46" r="0.8" fill="#F5A872"/>
<circle cx="639.38" cy="341.23" r="0.8" fill="#F5A872"/>
<circle cx="646.92" cy="339.94" r="0.8" fill="#F5A872"/>
<circle cx="654.47" cy="340.59" r="0.8" fill="#F5A872"/>
<circle cx="662.01" cy="339.62" r="0.8" fill="#F5A872"/>
<circle cx="669.56" cy="337.69" r="0.8" fill="#F5A872"/>
<polyline points="616.74,338.66 624.29,338.01 631.83,337.69 639.38,339.78 646.92,338.17 654.47,338.98 662.01,337.85 669.56,337.37" fill="none" stroke="#FF7E7E" stroke-width="0.6" stroke-linejoin="round"/>
<circle cx="616.74" cy="338.66" r="0.8" fill="#FF5555"/>
<circle cx="624.29" cy="338.01" r="0.8" fill="#FF5555"/>
<circle cx="631.83" cy="337.69" r="0.8" fill="#FF5555"/>
<circle cx="639.38" cy="339.78" r="0.8" fill="#FF5555"/>
<circle cx="646.92" cy="338.17" r="0.8" fill="#FF5555"/>
<circle cx="654.47" cy="338.98" r="0.8" fill="#FF5555"/>
<circle cx="662.01" cy="337.85" r="0.8" fill="#FF5555"/>
<circle cx="669.56" cy="337.37" r="0.8" fill="#FF5555"/>
<polyline points="616.74,338.66 624.29,338.66 631.83,338.98 639.38,339.94 646.92,338.66 654.47,339.94 662.01,338.98 669.56,338.33" fill="none" stroke="#FFBEE2" stroke-width="0.6" stroke-linejoin="round"/>
<circle cx="616.74" cy="338.66" r="0.8" fill="#FF86CC"/>
<circle cx="624.29" cy="338.66" r="0.8" fill="#FF86CC"/>
<circle cx="631.83" cy="338.98" r="0.8" fill="#FF86CC"/>
<circle cx="639.38" cy="339.94" r="0.8" fill="#FF86CC"/>
<circle cx="646.92" cy="338.66" r="0.8" fill="#FF86CC"/>
<circle cx="654.47" cy="339.94" r="0.8" fill="#FF86CC"/>
<circle cx="662.01" cy="338.98" r="0.8" fill="#FF86CC"/>
<circle cx="669.56" cy="338.33" r="0.8" fill="#FF86CC"/>
<rect x="609.2" y="310.3" width="67.9" height="58" fill="none" stroke="#222" stroke-width="0.9"/>
<line x1="612.5" y1="315.5" x2="619.1" y2="315.5" stroke="#222" stroke-width="0.6"/>
<path d="M615.8 314.62L616.67 315.5L615.8 316.38L614.92 315.5Z" fill="#000"/>
<text x="620.4" y="317" font-family="'Liberation Serif', serif" font-size="4.5" font-weight="bold" fill="#222" text-anchor="start" textLength="10.73" lengthAdjust="spacingAndGlyphs" stroke="#222" stroke-width="0.16">Unbent</text>
<line x1="612.5" y1="319.9" x2="619.1" y2="319.9" stroke="#FF7E7E" stroke-width="0.6"/>
<circle cx="615.8" cy="319.9" r="0.7" fill="#FF5555"/>
<text x="620.4" y="321.4" font-family="'Liberation Serif', serif" font-size="4.5" font-weight="bold" fill="#222" text-anchor="start" textLength="20.37" lengthAdjust="spacingAndGlyphs" stroke="#222" stroke-width="0.16">Flex-in 15mm</text>
<line x1="612.5" y1="324.5" x2="619.1" y2="324.5" stroke="#FFBEE2" stroke-width="0.6"/>
<circle cx="615.8" cy="324.5" r="0.7" fill="#FF86CC"/>
<text x="620.4" y="326" font-family="'Liberation Serif', serif" font-size="4.5" font-weight="bold" fill="#222" text-anchor="start" textLength="21.05" lengthAdjust="spacingAndGlyphs" stroke="#222" stroke-width="0.16">Flex-out 15mm</text>
<line x1="612.5" y1="329.3" x2="619.1" y2="329.3" stroke="#F5A872" stroke-width="0.6"/>
<circle cx="615.8" cy="329.3" r="0.7" fill="#F5A872"/>
<text x="620.4" y="330.8" font-family="'Liberation Serif', serif" font-size="4.5" font-weight="bold" fill="#222" text-anchor="start" textLength="20.37" lengthAdjust="spacingAndGlyphs" stroke="#222" stroke-width="0.16">Flex-in 10mm</text>
<line x1="641.79" y1="319.9" x2="648.39" y2="319.9" stroke="#EBC266" stroke-width="0.6"/>
<circle cx="645.09" cy="319.9" r="0.7" fill="#E6BC5E"/>
<text x="649.69" y="321.4" font-family="'Liberation Serif', serif" font-size="4.5" font-weight="bold" fill="#222" text-anchor="start" textLength="21.39" lengthAdjust="spacingAndGlyphs" stroke="#222" stroke-width="0.16">Flex-out 10mm</text>
<line x1="641.79" y1="324.5" x2="648.39" y2="324.5" stroke="#4AAFF8" stroke-width="0.6"/>
<circle cx="645.09" cy="324.5" r="0.7" fill="#4AAFF8"/>
<text x="649.69" y="326" font-family="'Liberation Serif', serif" font-size="4.5" font-weight="bold" fill="#222" text-anchor="start" textLength="18.47" lengthAdjust="spacingAndGlyphs" stroke="#222" stroke-width="0.16">Flex-in 5mm</text>
<line x1="641.79" y1="329.3" x2="648.39" y2="329.3" stroke="#B4DEFF" stroke-width="0.6"/>
<circle cx="645.09" cy="329.3" r="0.7" fill="#92CDF8"/>
<text x="649.69" y="330.8" font-family="'Liberation Serif', serif" font-size="4.5" font-weight="bold" fill="#222" text-anchor="start" textLength="19.83" lengthAdjust="spacingAndGlyphs" stroke="#222" stroke-width="0.16">Flex-out 5mm</text>
<text x="0" y="0" font-family="'Liberation Serif', serif" font-size="6.4" font-weight="bold" fill="#111" text-anchor="middle" textLength="25" lengthAdjust="spacingAndGlyphs" transform="translate(600.1 339.7) rotate(-90)" dominant-baseline="central">V<tspan font-size="3.6" dy="1">B</tspan><tspan dy="-1">/V (%)</tspan></text>
<text x="647" y="376.6" font-family="'Liberation Serif', serif" font-size="6.8" font-weight="bold" fill="#111" stroke="#111" stroke-width="0.2" text-anchor="middle" textLength="22" lengthAdjust="spacingAndGlyphs">H<tspan font-size="3.4" dy="0.68">DC</tspan><tspan dy="-0.68"> (Oe)</tspan></text>
<rect x="498.6" y="225.2" width="184.7" height="153.5" fill="none" stroke="#444" stroke-width="1.3"/>
<text x="0" y="0" font-family="'Liberation Serif', serif" font-size="11.2" font-weight="bold" fill="#000" stroke="#000" stroke-width="0.34" text-anchor="middle" textLength="51.5" lengthAdjust="spacingAndGlyphs" transform="translate(476.6 302) rotate(-90)" dominant-baseline="central"><tspan font-weight="normal" stroke-width="0" font-size="14">α</tspan><tspan font-size="5.6" dy="2.24">EB</tspan><tspan dy="-2.24">/</tspan><tspan font-weight="normal" stroke-width="0" font-size="14">α</tspan><tspan font-size="5.6" dy="2.24">E</tspan><tspan dy="-2.24"> (%)</tspan></text>
<text x="589.2" y="403.2" font-family="'Liberation Serif', serif" font-size="13.3" font-weight="bold" fill="#000" stroke="#000" stroke-width="0.4" text-anchor="middle" textLength="40.3" lengthAdjust="spacingAndGlyphs">H<tspan font-size="6.65" dy="1.33">DC</tspan><tspan dy="-1.33"> (Oe)</tspan></text>
</svg>
</body></html>
